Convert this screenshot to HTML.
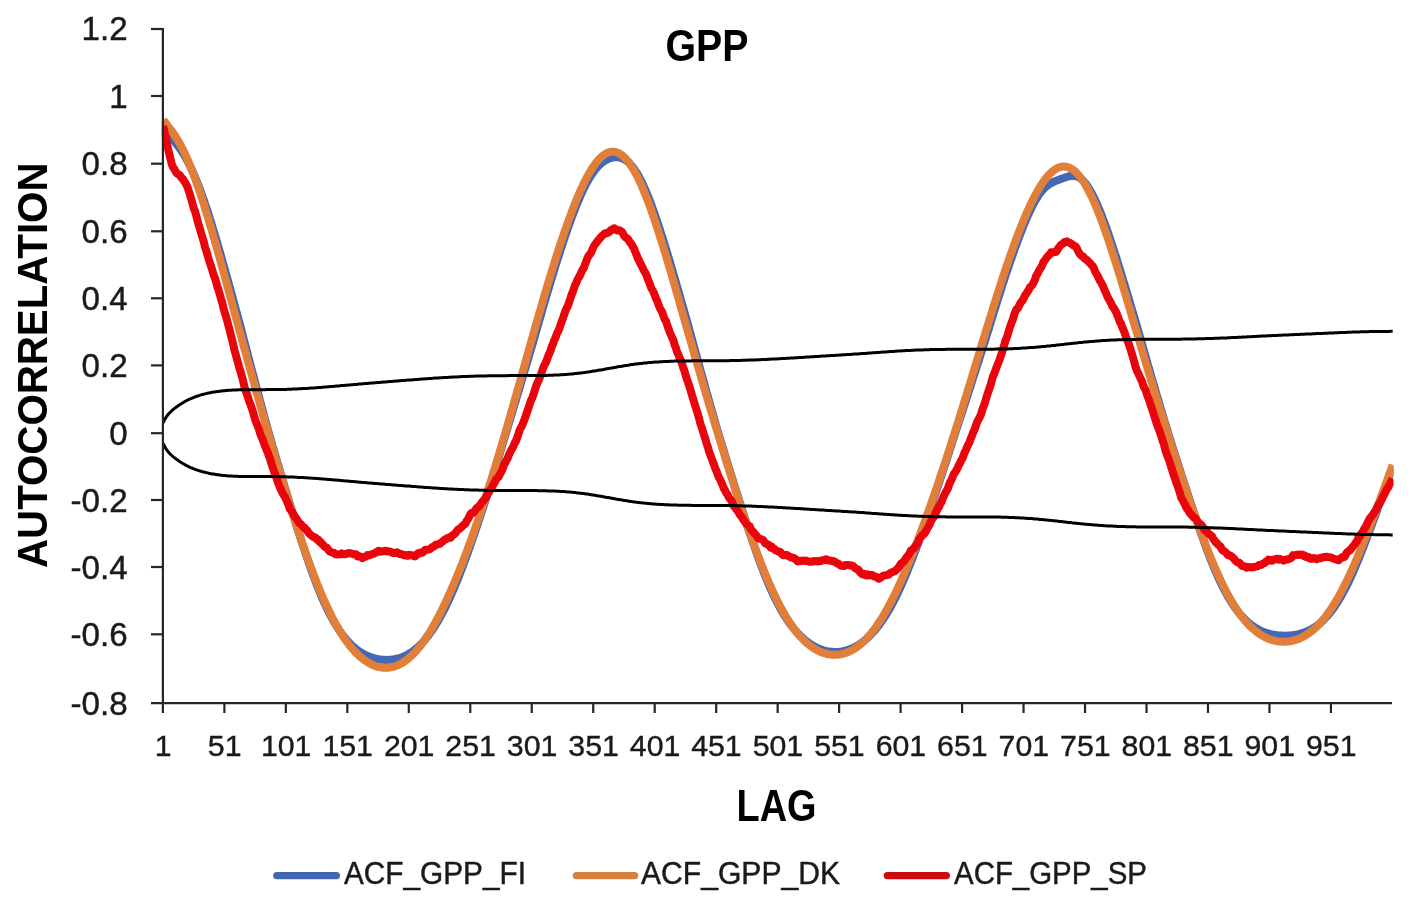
<!DOCTYPE html>
<html lang="en"><head><meta charset="utf-8"><title>GPP autocorrelation</title>
<style>html,body{margin:0;padding:0;background:#fff}body{width:1417px;height:904px;overflow:hidden}</style>
</head><body>
<svg width="1417" height="904" viewBox="0 0 1417 904" style="display:block;filter:blur(0.5px)">
<rect width="1417" height="904" fill="#fff"/>
<defs><clipPath id="plot"><rect x="161.8" y="20" width="1231.7" height="690"/></clipPath></defs>
<g fill="none" stroke-linejoin="round" stroke-linecap="butt" clip-path="url(#plot)">
<path d="M163.2,130.7 L164.4,130.7 L165.7,131.2 L166.9,132.7 L168.1,134.2 L169.3,135.7 L170.6,137.1 L171.8,138.5 L173.0,139.9 L174.3,141.3 L175.5,142.8 L176.7,144.3 L178.0,145.9 L179.2,147.6 L180.4,149.3 L181.6,151.1 L182.9,153.1 L184.1,155.0 L185.3,157.1 L186.6,159.3 L187.8,161.6 L189.0,164.0 L190.2,166.5 L191.5,169.1 L192.7,171.7 L193.9,174.5 L195.2,177.4 L196.4,180.4 L197.6,183.4 L198.9,186.6 L200.1,189.8 L201.3,193.2 L202.5,196.6 L203.8,200.1 L205.0,203.7 L206.2,207.3 L207.5,211.0 L208.7,214.8 L209.9,218.7 L211.2,222.6 L212.4,226.6 L213.6,230.7 L214.8,234.7 L216.1,238.9 L217.3,243.1 L218.5,247.3 L219.8,251.6 L221.0,255.8 L222.2,260.2 L223.4,264.5 L224.7,268.9 L225.9,273.3 L227.1,277.7 L228.4,282.2 L229.6,286.6 L230.8,291.1 L232.1,295.6 L233.3,300.1 L234.5,304.5 L235.7,309.0 L237.0,313.5 L238.2,318.0 L239.4,322.5 L240.7,327.2 L241.9,331.9 L243.1,336.6 L244.3,341.4 L245.6,346.1 L246.8,350.8 L248.0,355.5 L249.3,360.2 L250.5,364.9 L251.7,369.5 L253.0,374.2 L254.2,378.8 L255.4,383.4 L256.6,388.1 L257.9,392.7 L259.1,397.3 L260.3,401.8 L261.6,406.4 L262.8,410.9 L264.0,415.5 L265.2,420.0 L266.5,424.5 L267.7,429.0 L268.9,433.3 L270.2,437.6 L271.4,441.8 L272.6,446.1 L273.9,450.3 L275.1,454.5 L276.3,458.7 L277.5,462.8 L278.8,467.0 L280.0,471.1 L281.2,475.3 L282.5,479.4 L283.7,483.5 L284.9,487.6 L286.2,491.7 L287.4,495.8 L288.6,499.8 L289.8,503.9 L291.1,507.9 L292.3,511.9 L293.5,515.9 L294.8,519.8 L296.0,523.8 L297.2,527.7 L298.4,531.6 L299.7,535.4 L300.9,539.3 L302.1,543.0 L303.4,546.8 L304.6,550.5 L305.8,554.2 L307.1,557.8 L308.3,561.4 L309.5,565.0 L310.7,568.4 L312.0,571.9 L313.2,575.3 L314.4,578.6 L315.7,581.8 L316.9,585.0 L318.1,588.1 L319.3,591.2 L320.6,594.2 L321.8,597.1 L323.0,599.9 L324.3,602.7 L325.5,605.3 L326.7,608.0 L328.0,610.5 L329.2,613.0 L330.4,615.3 L331.6,617.6 L332.9,619.9 L334.1,622.0 L335.3,624.1 L336.6,626.1 L337.8,628.0 L339.0,629.9 L340.2,631.7 L341.5,633.4 L342.7,635.1 L343.9,636.7 L345.2,638.2 L346.4,639.6 L347.6,641.0 L348.9,642.4 L350.1,643.6 L351.3,644.9 L352.5,646.0 L353.8,647.1 L355.0,648.1 L356.2,649.1 L357.5,650.1 L358.7,651.0 L359.9,651.8 L361.1,652.6 L362.4,653.3 L363.6,654.0 L364.8,654.7 L366.1,655.3 L367.3,655.8 L368.5,656.4 L369.8,656.8 L371.0,657.3 L372.2,657.7 L373.4,658.0 L374.7,658.4 L375.9,658.7 L377.1,658.9 L378.4,659.2 L379.6,659.4 L380.8,659.5 L382.1,659.7 L383.3,659.8 L384.5,659.8 L385.7,659.9 L387.0,659.9 L388.2,659.8 L389.4,659.8 L390.7,659.7 L391.9,659.6 L393.1,659.4 L394.3,659.2 L395.6,659.0 L396.8,658.7 L398.0,658.4 L399.3,658.1 L400.5,657.7 L401.7,657.2 L403.0,656.8 L404.2,656.2 L405.4,655.7 L406.6,655.1 L407.9,654.4 L409.1,653.7 L410.3,652.9 L411.6,652.1 L412.8,651.3 L414.0,650.3 L415.2,649.4 L416.5,648.3 L417.7,647.3 L418.9,646.1 L420.2,644.9 L421.4,643.7 L422.6,642.4 L423.9,641.0 L425.1,639.6 L426.3,638.1 L427.5,636.5 L428.8,634.9 L430.0,633.3 L431.2,631.5 L432.5,629.8 L433.7,627.9 L434.9,626.0 L436.1,624.0 L437.4,622.0 L438.6,619.9 L439.8,617.7 L441.1,615.5 L442.3,613.2 L443.5,610.9 L444.8,608.5 L446.0,606.0 L447.2,603.4 L448.4,600.8 L449.7,598.2 L450.9,595.5 L452.1,592.7 L453.4,589.8 L454.6,586.9 L455.8,584.0 L457.1,581.0 L458.3,577.9 L459.5,574.8 L460.7,571.6 L462.0,568.4 L463.2,565.2 L464.4,561.9 L465.7,558.6 L466.9,555.2 L468.1,551.8 L469.3,548.3 L470.6,544.8 L471.8,541.3 L473.0,537.8 L474.3,534.2 L475.5,530.6 L476.7,526.9 L478.0,523.3 L479.2,519.6 L480.4,515.8 L481.6,512.1 L482.9,508.3 L484.1,504.5 L485.3,500.7 L486.6,496.8 L487.8,493.0 L489.0,489.1 L490.2,485.1 L491.5,481.2 L492.7,477.2 L493.9,473.2 L495.2,469.2 L496.4,465.1 L497.6,461.0 L498.9,456.9 L500.1,452.8 L501.3,448.7 L502.5,444.5 L503.8,440.3 L505.0,436.1 L506.2,432.1 L507.5,428.1 L508.7,424.0 L509.9,420.0 L511.1,415.9 L512.4,411.8 L513.6,407.7 L514.8,403.6 L516.1,399.5 L517.3,395.4 L518.5,391.3 L519.8,387.2 L521.0,383.0 L522.2,378.9 L523.4,374.7 L524.7,370.6 L525.9,366.4 L527.1,362.3 L528.4,358.2 L529.6,354.0 L530.8,349.9 L532.1,345.7 L533.3,341.6 L534.5,337.4 L535.7,333.0 L537.0,328.7 L538.2,324.4 L539.4,320.1 L540.7,315.8 L541.9,311.6 L543.1,307.3 L544.3,303.1 L545.6,298.9 L546.8,294.7 L548.0,290.6 L549.3,286.4 L550.5,282.3 L551.7,278.3 L553.0,274.2 L554.2,270.2 L555.4,266.2 L556.6,262.3 L557.9,258.4 L559.1,254.6 L560.3,250.7 L561.6,247.0 L562.8,243.2 L564.0,239.5 L565.2,235.9 L566.5,232.3 L567.7,228.8 L568.9,225.3 L570.2,221.9 L571.4,218.5 L572.6,215.2 L573.9,212.0 L575.1,208.8 L576.3,205.8 L577.5,202.7 L578.8,199.8 L580.0,197.0 L581.2,194.2 L582.5,191.5 L583.7,188.9 L584.9,186.4 L586.1,184.0 L587.4,181.8 L588.6,179.6 L589.8,177.5 L591.1,175.5 L592.3,173.7 L593.5,171.9 L594.8,170.3 L596.0,168.7 L597.2,167.3 L598.4,166.0 L599.7,164.8 L600.9,163.7 L602.1,162.6 L603.4,161.7 L604.6,160.9 L605.8,160.1 L607.0,159.5 L608.3,158.9 L609.5,158.4 L610.7,158.0 L612.0,157.7 L613.2,157.4 L614.4,157.3 L615.7,157.2 L616.9,157.2 L618.1,157.3 L619.3,157.5 L620.6,157.8 L621.8,158.2 L623.0,158.7 L624.3,159.3 L625.5,160.1 L626.7,160.9 L628.0,161.9 L629.2,163.0 L630.4,164.3 L631.6,165.7 L632.9,167.2 L634.1,168.8 L635.3,170.6 L636.6,172.5 L637.8,174.6 L639.0,176.7 L640.2,179.0 L641.5,181.4 L642.7,184.0 L643.9,186.6 L645.2,189.4 L646.4,192.3 L647.6,195.2 L648.9,198.3 L650.1,201.5 L651.3,204.7 L652.5,208.1 L653.8,211.5 L655.0,215.0 L656.2,218.5 L657.5,222.2 L658.7,225.9 L659.9,229.6 L661.1,233.4 L662.4,237.3 L663.6,241.2 L664.8,245.2 L666.1,249.2 L667.3,253.2 L668.5,257.3 L669.8,261.4 L671.0,265.6 L672.2,269.7 L673.4,273.9 L674.7,278.2 L675.9,282.4 L677.1,286.6 L678.4,290.9 L679.6,295.2 L680.8,299.5 L682.0,303.8 L683.3,308.0 L684.5,312.3 L685.7,316.7 L687.0,321.0 L688.2,325.3 L689.4,329.8 L690.7,334.3 L691.9,338.8 L693.1,343.3 L694.3,347.8 L695.6,352.3 L696.8,356.8 L698.0,361.3 L699.3,365.7 L700.5,370.2 L701.7,374.6 L703.0,379.0 L704.2,383.4 L705.4,387.8 L706.6,392.2 L707.9,396.6 L709.1,400.9 L710.3,405.3 L711.6,409.6 L712.8,413.9 L714.0,418.2 L715.2,422.5 L716.5,426.8 L717.7,431.1 L718.9,435.1 L720.2,439.2 L721.4,443.2 L722.6,447.2 L723.9,451.3 L725.1,455.3 L726.3,459.3 L727.5,463.3 L728.8,467.3 L730.0,471.2 L731.2,475.2 L732.5,479.1 L733.7,483.1 L734.9,487.0 L736.1,490.9 L737.4,494.8 L738.6,498.7 L739.8,502.6 L741.1,506.4 L742.3,510.3 L743.5,514.1 L744.8,517.9 L746.0,521.7 L747.2,525.4 L748.4,529.2 L749.7,532.9 L750.9,536.5 L752.1,540.1 L753.4,543.7 L754.6,547.3 L755.8,550.8 L757.0,554.3 L758.3,557.7 L759.5,561.1 L760.7,564.4 L762.0,567.7 L763.2,570.9 L764.4,574.0 L765.7,577.1 L766.9,580.1 L768.1,583.1 L769.3,585.9 L770.6,588.8 L771.8,591.5 L773.0,594.2 L774.3,596.8 L775.5,599.3 L776.7,601.8 L778.0,604.1 L779.2,606.4 L780.4,608.7 L781.6,610.9 L782.9,612.9 L784.1,615.0 L785.3,616.9 L786.6,618.8 L787.8,620.7 L789.0,622.4 L790.2,624.1 L791.5,625.8 L792.7,627.3 L793.9,628.9 L795.2,630.3 L796.4,631.7 L797.6,633.1 L798.9,634.4 L800.1,635.6 L801.3,636.8 L802.5,637.9 L803.8,639.0 L805.0,640.1 L806.2,641.0 L807.5,642.0 L808.7,642.9 L809.9,643.7 L811.1,644.5 L812.4,645.3 L813.6,646.0 L814.8,646.7 L816.1,647.3 L817.3,647.9 L818.5,648.4 L819.8,648.9 L821.0,649.4 L822.2,649.8 L823.4,650.2 L824.7,650.6 L825.9,650.9 L827.1,651.1 L828.4,651.4 L829.6,651.6 L830.8,651.7 L832.0,651.8 L833.3,651.9 L834.5,652.0 L835.7,652.0 L837.0,651.9 L838.2,651.9 L839.4,651.8 L840.7,651.6 L841.9,651.4 L843.1,651.2 L844.3,650.9 L845.6,650.6 L846.8,650.3 L848.0,649.9 L849.3,649.5 L850.5,649.0 L851.7,648.5 L852.9,648.0 L854.2,647.4 L855.4,646.7 L856.6,646.0 L857.9,645.3 L859.1,644.5 L860.3,643.7 L861.6,642.8 L862.8,641.9 L864.0,641.0 L865.2,639.9 L866.5,638.9 L867.7,637.8 L868.9,636.6 L870.2,635.4 L871.4,634.1 L872.6,632.8 L873.9,631.4 L875.1,630.0 L876.3,628.5 L877.5,627.0 L878.8,625.4 L880.0,623.7 L881.2,622.0 L882.5,620.2 L883.7,618.4 L884.9,616.5 L886.1,614.6 L887.4,612.6 L888.6,610.5 L889.8,608.4 L891.1,606.2 L892.3,603.9 L893.5,601.6 L894.8,599.2 L896.0,596.7 L897.2,594.2 L898.4,591.6 L899.7,589.0 L900.9,586.3 L902.1,583.5 L903.4,580.7 L904.6,577.8 L905.8,574.9 L907.0,571.9 L908.3,568.9 L909.5,565.8 L910.7,562.7 L912.0,559.5 L913.2,556.3 L914.4,553.1 L915.7,549.8 L916.9,546.5 L918.1,543.1 L919.3,539.8 L920.6,536.4 L921.8,532.9 L923.0,529.5 L924.3,526.0 L925.5,522.5 L926.7,519.0 L927.9,515.5 L929.2,511.9 L930.4,508.3 L931.6,504.7 L932.9,501.1 L934.1,497.5 L935.3,493.9 L936.6,490.2 L937.8,486.6 L939.0,482.9 L940.2,479.2 L941.5,475.5 L942.7,471.7 L943.9,468.0 L945.2,464.2 L946.4,460.5 L947.6,456.7 L948.9,452.9 L950.1,449.1 L951.3,445.2 L952.5,441.4 L953.8,437.5 L955.0,433.7 L956.2,430.0 L957.5,426.3 L958.7,422.6 L959.9,418.8 L961.1,415.1 L962.4,411.3 L963.6,407.5 L964.8,403.8 L966.1,400.0 L967.3,396.2 L968.5,392.4 L969.8,388.5 L971.0,384.7 L972.2,380.9 L973.4,377.1 L974.7,373.2 L975.9,369.4 L977.1,365.5 L978.4,361.7 L979.6,357.9 L980.8,354.0 L982.0,350.2 L983.3,346.3 L984.5,342.5 L985.7,338.6 L987.0,334.6 L988.2,330.6 L989.4,326.6 L990.7,322.6 L991.9,318.6 L993.1,314.7 L994.3,310.7 L995.6,306.8 L996.8,302.9 L998.0,299.0 L999.3,295.1 L1000.5,291.3 L1001.7,287.4 L1002.9,283.6 L1004.2,279.9 L1005.4,276.1 L1006.6,272.4 L1007.9,268.8 L1009.1,265.1 L1010.3,261.5 L1011.6,258.0 L1012.8,254.5 L1014.0,251.0 L1015.2,247.5 L1016.5,244.2 L1017.7,240.8 L1018.9,237.6 L1020.2,234.3 L1021.4,231.2 L1022.6,228.1 L1023.9,225.0 L1025.1,222.0 L1026.3,219.1 L1027.5,216.3 L1028.8,213.6 L1030.0,210.9 L1031.2,208.4 L1032.5,205.9 L1033.7,203.6 L1034.9,201.3 L1036.1,199.2 L1037.4,197.2 L1038.6,195.3 L1039.8,193.6 L1041.1,192.0 L1042.3,190.5 L1043.5,189.1 L1044.8,187.9 L1046.0,186.7 L1047.2,185.7 L1048.4,184.8 L1049.7,184.0 L1050.9,183.3 L1052.1,182.6 L1053.4,182.0 L1054.6,181.5 L1055.8,180.9 L1057.0,180.4 L1058.3,179.9 L1059.5,179.5 L1060.7,179.0 L1062.0,178.5 L1063.2,178.1 L1064.4,177.7 L1065.7,177.2 L1066.9,176.9 L1068.1,176.5 L1069.3,176.2 L1070.6,176.0 L1071.8,175.9 L1073.0,175.8 L1074.3,175.9 L1075.5,176.1 L1076.7,176.5 L1077.9,176.9 L1079.2,177.6 L1080.4,178.4 L1081.6,179.3 L1082.9,180.5 L1084.1,181.8 L1085.3,183.2 L1086.6,184.8 L1087.8,186.6 L1089.0,188.5 L1090.2,190.5 L1091.5,192.7 L1092.7,195.0 L1093.9,197.5 L1095.2,200.1 L1096.4,202.7 L1097.6,205.5 L1098.8,208.4 L1100.1,211.4 L1101.3,214.5 L1102.5,217.7 L1103.8,220.9 L1105.0,224.2 L1106.2,227.6 L1107.5,231.1 L1108.7,234.7 L1109.9,238.3 L1111.1,241.9 L1112.4,245.6 L1113.6,249.4 L1114.8,253.2 L1116.1,257.0 L1117.3,260.9 L1118.5,264.9 L1119.8,268.8 L1121.0,272.8 L1122.2,276.8 L1123.4,280.9 L1124.7,284.9 L1125.9,289.0 L1127.1,293.1 L1128.4,297.2 L1129.6,301.4 L1130.8,305.5 L1132.0,309.6 L1133.3,313.8 L1134.5,317.9 L1135.7,322.0 L1137.0,326.2 L1138.2,330.6 L1139.4,334.9 L1140.7,339.3 L1141.9,343.6 L1143.1,347.9 L1144.3,352.2 L1145.6,356.5 L1146.8,360.8 L1148.0,365.1 L1149.3,369.3 L1150.5,373.6 L1151.7,377.8 L1152.9,382.0 L1154.2,386.2 L1155.4,390.4 L1156.6,394.6 L1157.9,398.8 L1159.1,402.9 L1160.3,407.1 L1161.6,411.2 L1162.8,415.3 L1164.0,419.4 L1165.2,423.5 L1166.5,427.6 L1167.7,431.7 L1168.9,435.6 L1170.2,439.5 L1171.4,443.3 L1172.6,447.2 L1173.8,451.1 L1175.1,454.9 L1176.3,458.7 L1177.5,462.6 L1178.8,466.4 L1180.0,470.2 L1181.2,474.0 L1182.5,477.8 L1183.7,481.6 L1184.9,485.4 L1186.1,489.2 L1187.4,492.9 L1188.6,496.7 L1189.8,500.4 L1191.1,504.1 L1192.3,507.8 L1193.5,511.5 L1194.8,515.1 L1196.0,518.7 L1197.2,522.3 L1198.4,525.9 L1199.7,529.5 L1200.9,533.0 L1202.1,536.5 L1203.4,539.9 L1204.6,543.3 L1205.8,546.6 L1207.0,550.0 L1208.3,553.2 L1209.5,556.4 L1210.7,559.6 L1212.0,562.6 L1213.2,565.7 L1214.4,568.6 L1215.7,571.5 L1216.9,574.4 L1218.1,577.1 L1219.3,579.8 L1220.6,582.4 L1221.8,585.0 L1223.0,587.5 L1224.3,589.9 L1225.5,592.2 L1226.7,594.4 L1227.9,596.6 L1229.2,598.7 L1230.4,600.7 L1231.6,602.7 L1232.9,604.6 L1234.1,606.4 L1235.3,608.1 L1236.6,609.8 L1237.8,611.4 L1239.0,612.9 L1240.2,614.4 L1241.5,615.8 L1242.7,617.2 L1243.9,618.4 L1245.2,619.7 L1246.4,620.8 L1247.6,622.0 L1248.8,623.0 L1250.1,624.0 L1251.3,625.0 L1252.5,625.9 L1253.8,626.7 L1255.0,627.5 L1256.2,628.3 L1257.5,629.0 L1258.7,629.7 L1259.9,630.3 L1261.1,630.9 L1262.4,631.4 L1263.6,631.9 L1264.8,632.4 L1266.1,632.8 L1267.3,633.2 L1268.5,633.5 L1269.8,633.9 L1271.0,634.2 L1272.2,634.4 L1273.4,634.7 L1274.7,634.9 L1275.9,635.1 L1277.1,635.2 L1278.4,635.4 L1279.6,635.5 L1280.8,635.6 L1282.0,635.6 L1283.3,635.7 L1284.5,635.7 L1285.7,635.7 L1287.0,635.7 L1288.2,635.6 L1289.4,635.6 L1290.7,635.5 L1291.9,635.3 L1293.1,635.2 L1294.3,635.0 L1295.6,634.8 L1296.8,634.6 L1298.0,634.3 L1299.3,634.0 L1300.5,633.7 L1301.7,633.3 L1302.9,632.9 L1304.2,632.5 L1305.4,632.0 L1306.6,631.5 L1307.9,631.0 L1309.1,630.4 L1310.3,629.8 L1311.6,629.1 L1312.8,628.4 L1314.0,627.6 L1315.2,626.8 L1316.5,626.0 L1317.7,625.1 L1318.9,624.1 L1320.2,623.1 L1321.4,622.0 L1322.6,620.9 L1323.8,619.7 L1325.1,618.4 L1326.3,617.1 L1327.5,615.8 L1328.8,614.3 L1330.0,612.8 L1331.2,611.3 L1332.5,609.7 L1333.7,608.0 L1334.9,606.2 L1336.1,604.4 L1337.4,602.5 L1338.6,600.5 L1339.8,598.5 L1341.1,596.4 L1342.3,594.2 L1343.5,591.9 L1344.7,589.6 L1346.0,587.2 L1347.2,584.8 L1348.4,582.2 L1349.7,579.6 L1350.9,577.0 L1352.1,574.3 L1353.4,571.5 L1354.6,568.7 L1355.8,565.8 L1357.0,562.9 L1358.3,559.9 L1359.5,556.9 L1360.7,553.8 L1362.0,550.7 L1363.2,547.5 L1364.4,544.4 L1365.7,541.2 L1366.9,537.9 L1368.1,534.7 L1369.3,531.4 L1370.6,528.1 L1371.8,524.8 L1373.0,521.4 L1374.3,518.1 L1375.5,514.7 L1376.7,511.3 L1377.9,507.9 L1379.2,504.6 L1380.4,501.2 L1381.6,497.7 L1382.9,494.3 L1384.1,490.9 L1385.3,487.5 L1386.6,484.1 L1387.8,480.6 L1389.0,477.2 L1390.2,473.7 L1391.5,470.3 L1392.7,466.8" stroke="#4268b6" stroke-width="8"/>
<path d="M163.2,119.8 L164.4,121.5 L165.7,123.1 L166.9,124.7 L168.1,126.3 L169.3,127.9 L170.6,129.5 L171.8,131.2 L173.0,132.9 L174.3,134.7 L175.5,136.5 L176.7,138.5 L178.0,140.5 L179.2,142.6 L180.4,144.8 L181.6,147.1 L182.9,149.5 L184.1,152.0 L185.3,154.6 L186.6,157.3 L187.8,160.1 L189.0,163.0 L190.2,165.9 L191.5,169.0 L192.7,172.2 L193.9,175.4 L195.2,178.7 L196.4,182.1 L197.6,185.6 L198.9,189.2 L200.1,192.8 L201.3,196.5 L202.5,200.3 L203.8,204.1 L205.0,208.0 L206.2,212.0 L207.5,216.0 L208.7,220.1 L209.9,224.2 L211.2,228.3 L212.4,232.5 L213.6,236.8 L214.8,241.0 L216.1,245.3 L217.3,249.7 L218.5,254.0 L219.8,258.4 L221.0,262.8 L222.2,267.3 L223.4,271.7 L224.7,276.2 L225.9,280.6 L227.1,285.1 L228.4,289.6 L229.6,294.1 L230.8,298.6 L232.1,303.1 L233.3,307.6 L234.5,312.1 L235.7,316.7 L237.0,321.2 L238.2,325.7 L239.4,330.2 L240.7,334.7 L241.9,339.2 L243.1,343.6 L244.3,348.1 L245.6,352.6 L246.8,357.0 L248.0,361.5 L249.3,365.9 L250.5,370.4 L251.7,374.8 L253.0,379.2 L254.2,383.6 L255.4,388.0 L256.6,392.3 L257.9,396.7 L259.1,401.0 L260.3,405.4 L261.6,409.7 L262.8,414.0 L264.0,418.3 L265.2,422.6 L266.5,426.8 L267.7,431.1 L268.9,435.3 L270.2,439.6 L271.4,443.8 L272.6,448.0 L273.9,452.1 L275.1,456.3 L276.3,460.5 L277.5,464.6 L278.8,468.7 L280.0,472.8 L281.2,476.9 L282.5,480.9 L283.7,485.0 L284.9,489.0 L286.2,493.0 L287.4,497.0 L288.6,500.9 L289.8,504.9 L291.1,508.8 L292.3,512.7 L293.5,516.5 L294.8,520.3 L296.0,524.1 L297.2,527.9 L298.4,531.6 L299.7,535.3 L300.9,539.0 L302.1,542.7 L303.4,546.3 L304.6,549.8 L305.8,553.3 L307.1,556.8 L308.3,560.3 L309.5,563.7 L310.7,567.0 L312.0,570.3 L313.2,573.6 L314.4,576.8 L315.7,580.0 L316.9,583.1 L318.1,586.2 L319.3,589.2 L320.6,592.1 L321.8,595.0 L323.0,597.9 L324.3,600.7 L325.5,603.4 L326.7,606.1 L328.0,608.8 L329.2,611.3 L330.4,613.8 L331.6,616.3 L332.9,618.7 L334.1,621.0 L335.3,623.3 L336.6,625.5 L337.8,627.7 L339.0,629.8 L340.2,631.8 L341.5,633.8 L342.7,635.7 L343.9,637.6 L345.2,639.4 L346.4,641.1 L347.6,642.8 L348.9,644.4 L350.1,646.0 L351.3,647.5 L352.5,648.9 L353.8,650.3 L355.0,651.7 L356.2,653.0 L357.5,654.2 L358.7,655.4 L359.9,656.5 L361.1,657.5 L362.4,658.5 L363.6,659.5 L364.8,660.4 L366.1,661.2 L367.3,662.0 L368.5,662.8 L369.8,663.5 L371.0,664.1 L372.2,664.7 L373.4,665.3 L374.7,665.7 L375.9,666.2 L377.1,666.6 L378.4,666.9 L379.6,667.2 L380.8,667.4 L382.1,667.6 L383.3,667.7 L384.5,667.8 L385.7,667.8 L387.0,667.8 L388.2,667.7 L389.4,667.6 L390.7,667.4 L391.9,667.1 L393.1,666.9 L394.3,666.5 L395.6,666.1 L396.8,665.6 L398.0,665.1 L399.3,664.5 L400.5,663.9 L401.7,663.2 L403.0,662.5 L404.2,661.7 L405.4,660.8 L406.6,659.9 L407.9,659.0 L409.1,657.9 L410.3,656.8 L411.6,655.7 L412.8,654.5 L414.0,653.2 L415.2,651.9 L416.5,650.5 L417.7,649.1 L418.9,647.6 L420.2,646.1 L421.4,644.5 L422.6,642.8 L423.9,641.1 L425.1,639.3 L426.3,637.5 L427.5,635.6 L428.8,633.7 L430.0,631.7 L431.2,629.7 L432.5,627.6 L433.7,625.5 L434.9,623.3 L436.1,621.0 L437.4,618.8 L438.6,616.4 L439.8,614.0 L441.1,611.6 L442.3,609.1 L443.5,606.6 L444.8,604.1 L446.0,601.5 L447.2,598.8 L448.4,596.1 L449.7,593.4 L450.9,590.6 L452.1,587.8 L453.4,585.0 L454.6,582.1 L455.8,579.2 L457.1,576.2 L458.3,573.2 L459.5,570.2 L460.7,567.1 L462.0,564.0 L463.2,560.8 L464.4,557.6 L465.7,554.4 L466.9,551.1 L468.1,547.9 L469.3,544.5 L470.6,541.2 L471.8,537.8 L473.0,534.3 L474.3,530.9 L475.5,527.4 L476.7,523.8 L478.0,520.3 L479.2,516.7 L480.4,513.1 L481.6,509.4 L482.9,505.7 L484.1,502.0 L485.3,498.2 L486.6,494.4 L487.8,490.6 L489.0,486.7 L490.2,482.8 L491.5,478.9 L492.7,475.0 L493.9,471.0 L495.2,467.0 L496.4,463.0 L497.6,458.9 L498.9,454.8 L500.1,450.7 L501.3,446.6 L502.5,442.4 L503.8,438.2 L505.0,434.0 L506.2,429.8 L507.5,425.6 L508.7,421.3 L509.9,417.0 L511.1,412.7 L512.4,408.4 L513.6,404.1 L514.8,399.8 L516.1,395.4 L517.3,391.1 L518.5,386.7 L519.8,382.4 L521.0,378.0 L522.2,373.6 L523.4,369.2 L524.7,364.8 L525.9,360.5 L527.1,356.1 L528.4,351.7 L529.6,347.4 L530.8,343.0 L532.1,338.7 L533.3,334.3 L534.5,330.0 L535.7,325.7 L537.0,321.4 L538.2,317.1 L539.4,312.8 L540.7,308.6 L541.9,304.3 L543.1,300.1 L544.3,295.9 L545.6,291.8 L546.8,287.6 L548.0,283.5 L549.3,279.4 L550.5,275.4 L551.7,271.4 L553.0,267.4 L554.2,263.5 L555.4,259.5 L556.6,255.7 L557.9,251.8 L559.1,248.1 L560.3,244.3 L561.6,240.6 L562.8,236.9 L564.0,233.3 L565.2,229.8 L566.5,226.3 L567.7,222.8 L568.9,219.4 L570.2,216.1 L571.4,212.8 L572.6,209.6 L573.9,206.4 L575.1,203.3 L576.3,200.3 L577.5,197.3 L578.8,194.5 L580.0,191.7 L581.2,188.9 L582.5,186.3 L583.7,183.7 L584.9,181.2 L586.1,178.8 L587.4,176.5 L588.6,174.3 L589.8,172.1 L591.1,170.1 L592.3,168.1 L593.5,166.3 L594.8,164.5 L596.0,162.9 L597.2,161.3 L598.4,159.9 L599.7,158.6 L600.9,157.4 L602.1,156.3 L603.4,155.3 L604.6,154.4 L605.8,153.7 L607.0,153.1 L608.3,152.5 L609.5,152.2 L610.7,151.9 L612.0,151.7 L613.2,151.7 L614.4,151.8 L615.7,152.1 L616.9,152.4 L618.1,152.9 L619.3,153.5 L620.6,154.3 L621.8,155.1 L623.0,156.1 L624.3,157.2 L625.5,158.5 L626.7,159.9 L628.0,161.3 L629.2,163.0 L630.4,164.7 L631.6,166.5 L632.9,168.5 L634.1,170.6 L635.3,172.8 L636.6,175.1 L637.8,177.5 L639.0,180.0 L640.2,182.6 L641.5,185.3 L642.7,188.2 L643.9,191.1 L645.2,194.1 L646.4,197.2 L647.6,200.3 L648.9,203.6 L650.1,207.0 L651.3,210.4 L652.5,213.9 L653.8,217.4 L655.0,221.1 L656.2,224.7 L657.5,228.5 L658.7,232.3 L659.9,236.2 L661.1,240.1 L662.4,244.0 L663.6,248.0 L664.8,252.1 L666.1,256.1 L667.3,260.2 L668.5,264.4 L669.8,268.5 L671.0,272.7 L672.2,276.9 L673.4,281.2 L674.7,285.4 L675.9,289.7 L677.1,293.9 L678.4,298.2 L679.6,302.5 L680.8,306.8 L682.0,311.1 L683.3,315.4 L684.5,319.7 L685.7,324.0 L687.0,328.3 L688.2,332.6 L689.4,336.9 L690.7,341.2 L691.9,345.4 L693.1,349.7 L694.3,354.0 L695.6,358.2 L696.8,362.5 L698.0,366.7 L699.3,370.9 L700.5,375.2 L701.7,379.4 L703.0,383.6 L704.2,387.7 L705.4,391.9 L706.6,396.1 L707.9,400.2 L709.1,404.3 L710.3,408.5 L711.6,412.6 L712.8,416.7 L714.0,420.8 L715.2,424.8 L716.5,428.9 L717.7,433.0 L718.9,437.0 L720.2,441.0 L721.4,445.0 L722.6,449.0 L723.9,453.0 L725.1,457.0 L726.3,461.0 L727.5,464.9 L728.8,468.8 L730.0,472.7 L731.2,476.6 L732.5,480.5 L733.7,484.4 L734.9,488.2 L736.1,492.1 L737.4,495.9 L738.6,499.6 L739.8,503.4 L741.1,507.1 L742.3,510.9 L743.5,514.5 L744.8,518.2 L746.0,521.8 L747.2,525.4 L748.4,529.0 L749.7,532.5 L750.9,536.0 L752.1,539.5 L753.4,543.0 L754.6,546.4 L755.8,549.7 L757.0,553.0 L758.3,556.3 L759.5,559.5 L760.7,562.7 L762.0,565.9 L763.2,569.0 L764.4,572.0 L765.7,575.0 L766.9,578.0 L768.1,580.9 L769.3,583.7 L770.6,586.5 L771.8,589.2 L773.0,591.9 L774.3,594.6 L775.5,597.1 L776.7,599.6 L778.0,602.1 L779.2,604.5 L780.4,606.8 L781.6,609.1 L782.9,611.3 L784.1,613.5 L785.3,615.6 L786.6,617.6 L787.8,619.6 L789.0,621.6 L790.2,623.4 L791.5,625.2 L792.7,627.0 L793.9,628.7 L795.2,630.3 L796.4,631.9 L797.6,633.4 L798.9,634.9 L800.1,636.3 L801.3,637.6 L802.5,638.9 L803.8,640.1 L805.0,641.3 L806.2,642.4 L807.5,643.5 L808.7,644.5 L809.9,645.5 L811.1,646.4 L812.4,647.3 L813.6,648.1 L814.8,648.9 L816.1,649.6 L817.3,650.3 L818.5,650.9 L819.8,651.5 L821.0,652.0 L822.2,652.5 L823.4,652.9 L824.7,653.3 L825.9,653.7 L827.1,654.0 L828.4,654.2 L829.6,654.4 L830.8,654.6 L832.0,654.7 L833.3,654.8 L834.5,654.8 L835.7,654.8 L837.0,654.7 L838.2,654.6 L839.4,654.5 L840.7,654.3 L841.9,654.0 L843.1,653.7 L844.3,653.4 L845.6,653.0 L846.8,652.5 L848.0,652.1 L849.3,651.5 L850.5,650.9 L851.7,650.3 L852.9,649.6 L854.2,648.9 L855.4,648.1 L856.6,647.2 L857.9,646.3 L859.1,645.4 L860.3,644.4 L861.6,643.3 L862.8,642.2 L864.0,641.1 L865.2,639.9 L866.5,638.6 L867.7,637.3 L868.9,635.9 L870.2,634.5 L871.4,633.0 L872.6,631.4 L873.9,629.8 L875.1,628.2 L876.3,626.5 L877.5,624.7 L878.8,622.9 L880.0,621.0 L881.2,619.1 L882.5,617.1 L883.7,615.1 L884.9,613.0 L886.1,610.8 L887.4,608.7 L888.6,606.4 L889.8,604.1 L891.1,601.8 L892.3,599.4 L893.5,597.0 L894.8,594.5 L896.0,591.9 L897.2,589.4 L898.4,586.7 L899.7,584.1 L900.9,581.4 L902.1,578.6 L903.4,575.8 L904.6,573.0 L905.8,570.1 L907.0,567.2 L908.3,564.2 L909.5,561.2 L910.7,558.2 L912.0,555.2 L913.2,552.1 L914.4,549.0 L915.7,545.8 L916.9,542.6 L918.1,539.4 L919.3,536.1 L920.6,532.9 L921.8,529.6 L923.0,526.2 L924.3,522.9 L925.5,519.5 L926.7,516.1 L927.9,512.7 L929.2,509.2 L930.4,505.7 L931.6,502.2 L932.9,498.7 L934.1,495.1 L935.3,491.6 L936.6,488.0 L937.8,484.3 L939.0,480.7 L940.2,477.1 L941.5,473.4 L942.7,469.7 L943.9,466.0 L945.2,462.2 L946.4,458.5 L947.6,454.7 L948.9,450.9 L950.1,447.1 L951.3,443.3 L952.5,439.4 L953.8,435.6 L955.0,431.7 L956.2,427.8 L957.5,423.9 L958.7,420.0 L959.9,416.1 L961.1,412.1 L962.4,408.2 L963.6,404.2 L964.8,400.2 L966.1,396.2 L967.3,392.2 L968.5,388.2 L969.8,384.2 L971.0,380.2 L972.2,376.2 L973.4,372.1 L974.7,368.1 L975.9,364.0 L977.1,360.0 L978.4,356.0 L979.6,351.9 L980.8,347.9 L982.0,343.8 L983.3,339.8 L984.5,335.8 L985.7,331.8 L987.0,327.8 L988.2,323.8 L989.4,319.8 L990.7,315.8 L991.9,311.9 L993.1,307.9 L994.3,304.0 L995.6,300.1 L996.8,296.2 L998.0,292.4 L999.3,288.5 L1000.5,284.7 L1001.7,281.0 L1002.9,277.2 L1004.2,273.5 L1005.4,269.8 L1006.6,266.2 L1007.9,262.6 L1009.1,259.0 L1010.3,255.5 L1011.6,252.0 L1012.8,248.5 L1014.0,245.1 L1015.2,241.8 L1016.5,238.5 L1017.7,235.2 L1018.9,232.0 L1020.2,228.8 L1021.4,225.7 L1022.6,222.7 L1023.9,219.7 L1025.1,216.8 L1026.3,213.9 L1027.5,211.2 L1028.8,208.4 L1030.0,205.8 L1031.2,203.2 L1032.5,200.7 L1033.7,198.2 L1034.9,195.8 L1036.1,193.5 L1037.4,191.3 L1038.6,189.2 L1039.8,187.2 L1041.1,185.2 L1042.3,183.3 L1043.5,181.5 L1044.8,179.8 L1046.0,178.2 L1047.2,176.7 L1048.4,175.3 L1049.7,174.0 L1050.9,172.8 L1052.1,171.7 L1053.4,170.7 L1054.6,169.8 L1055.8,169.0 L1057.0,168.3 L1058.3,167.7 L1059.5,167.3 L1060.7,166.9 L1062.0,166.7 L1063.2,166.6 L1064.4,166.6 L1065.7,166.7 L1066.9,166.9 L1068.1,167.3 L1069.3,167.8 L1070.6,168.3 L1071.8,169.1 L1073.0,169.9 L1074.3,170.8 L1075.5,171.9 L1076.7,173.1 L1077.9,174.4 L1079.2,175.8 L1080.4,177.4 L1081.6,179.1 L1082.9,180.8 L1084.1,182.7 L1085.3,184.7 L1086.6,186.8 L1087.8,189.1 L1089.0,191.4 L1090.2,193.8 L1091.5,196.3 L1092.7,199.0 L1093.9,201.7 L1095.2,204.5 L1096.4,207.4 L1097.6,210.4 L1098.8,213.5 L1100.1,216.7 L1101.3,219.9 L1102.5,223.2 L1103.8,226.6 L1105.0,230.1 L1106.2,233.6 L1107.5,237.2 L1108.7,240.8 L1109.9,244.5 L1111.1,248.3 L1112.4,252.1 L1113.6,255.9 L1114.8,259.8 L1116.1,263.7 L1117.3,267.7 L1118.5,271.7 L1119.8,275.7 L1121.0,279.7 L1122.2,283.8 L1123.4,287.8 L1124.7,291.9 L1125.9,296.0 L1127.1,300.2 L1128.4,304.3 L1129.6,308.4 L1130.8,312.6 L1132.0,316.7 L1133.3,320.8 L1134.5,325.0 L1135.7,329.1 L1137.0,333.2 L1138.2,337.4 L1139.4,341.5 L1140.7,345.6 L1141.9,349.7 L1143.1,353.8 L1144.3,357.9 L1145.6,362.0 L1146.8,366.1 L1148.0,370.1 L1149.3,374.2 L1150.5,378.2 L1151.7,382.2 L1152.9,386.2 L1154.2,390.2 L1155.4,394.2 L1156.6,398.2 L1157.9,402.2 L1159.1,406.1 L1160.3,410.1 L1161.6,414.0 L1162.8,417.9 L1164.0,421.8 L1165.2,425.7 L1166.5,429.6 L1167.7,433.5 L1168.9,437.4 L1170.2,441.2 L1171.4,445.0 L1172.6,448.9 L1173.8,452.7 L1175.1,456.5 L1176.3,460.3 L1177.5,464.1 L1178.8,467.8 L1180.0,471.6 L1181.2,475.3 L1182.5,479.1 L1183.7,482.8 L1184.9,486.5 L1186.1,490.1 L1187.4,493.8 L1188.6,497.4 L1189.8,501.0 L1191.1,504.6 L1192.3,508.2 L1193.5,511.7 L1194.8,515.2 L1196.0,518.7 L1197.2,522.1 L1198.4,525.6 L1199.7,529.0 L1200.9,532.3 L1202.1,535.6 L1203.4,538.9 L1204.6,542.2 L1205.8,545.4 L1207.0,548.5 L1208.3,551.6 L1209.5,554.7 L1210.7,557.8 L1212.0,560.7 L1213.2,563.7 L1214.4,566.6 L1215.7,569.4 L1216.9,572.2 L1218.1,574.9 L1219.3,577.6 L1220.6,580.3 L1221.8,582.8 L1223.0,585.4 L1224.3,587.8 L1225.5,590.2 L1226.7,592.6 L1227.9,594.9 L1229.2,597.1 L1230.4,599.3 L1231.6,601.4 L1232.9,603.4 L1234.1,605.4 L1235.3,607.4 L1236.6,609.3 L1237.8,611.1 L1239.0,612.8 L1240.2,614.5 L1241.5,616.2 L1242.7,617.8 L1243.9,619.3 L1245.2,620.8 L1246.4,622.2 L1247.6,623.5 L1248.8,624.8 L1250.1,626.1 L1251.3,627.3 L1252.5,628.4 L1253.8,629.5 L1255.0,630.5 L1256.2,631.5 L1257.5,632.5 L1258.7,633.3 L1259.9,634.2 L1261.1,635.0 L1262.4,635.7 L1263.6,636.4 L1264.8,637.1 L1266.1,637.7 L1267.3,638.2 L1268.5,638.7 L1269.8,639.2 L1271.0,639.6 L1272.2,640.0 L1273.4,640.4 L1274.7,640.7 L1275.9,640.9 L1277.1,641.2 L1278.4,641.4 L1279.6,641.5 L1280.8,641.6 L1282.0,641.7 L1283.3,641.7 L1284.5,641.7 L1285.7,641.7 L1287.0,641.6 L1288.2,641.5 L1289.4,641.3 L1290.7,641.1 L1291.9,640.9 L1293.1,640.6 L1294.3,640.3 L1295.6,639.9 L1296.8,639.5 L1298.0,639.0 L1299.3,638.6 L1300.5,638.0 L1301.7,637.4 L1302.9,636.8 L1304.2,636.2 L1305.4,635.5 L1306.6,634.7 L1307.9,633.9 L1309.1,633.0 L1310.3,632.1 L1311.6,631.2 L1312.8,630.2 L1314.0,629.1 L1315.2,628.0 L1316.5,626.9 L1317.7,625.7 L1318.9,624.4 L1320.2,623.1 L1321.4,621.7 L1322.6,620.3 L1323.8,618.8 L1325.1,617.3 L1326.3,615.7 L1327.5,614.0 L1328.8,612.3 L1330.0,610.5 L1331.2,608.7 L1332.5,606.8 L1333.7,604.9 L1334.9,602.9 L1336.1,600.9 L1337.4,598.8 L1338.6,596.6 L1339.8,594.4 L1341.1,592.1 L1342.3,589.8 L1343.5,587.4 L1344.7,585.0 L1346.0,582.6 L1347.2,580.0 L1348.4,577.5 L1349.7,574.9 L1350.9,572.2 L1352.1,569.5 L1353.4,566.8 L1354.6,564.0 L1355.8,561.2 L1357.0,558.3 L1358.3,555.4 L1359.5,552.5 L1360.7,549.5 L1362.0,546.5 L1363.2,543.5 L1364.4,540.4 L1365.7,537.4 L1366.9,534.2 L1368.1,531.1 L1369.3,528.0 L1370.6,524.8 L1371.8,521.6 L1373.0,518.4 L1374.3,515.1 L1375.5,511.9 L1376.7,508.6 L1377.9,505.3 L1379.2,502.0 L1380.4,498.7 L1381.6,495.4 L1382.9,492.0 L1384.1,488.7 L1385.3,485.3 L1386.6,482.0 L1387.8,478.6 L1389.0,475.2 L1390.2,471.8 L1391.5,468.4 L1392.7,464.9" stroke="#e17f3a" stroke-width="8"/>
<path d="M163.2,126.1 L164.4,131.8 L165.7,137.6 L166.9,143.1 L168.1,148.9 L169.3,154.0 L170.6,159.2 L171.8,164.3 L173.0,167.1 L174.3,169.2 L175.5,171.4 L176.7,173.1 L178.0,174.2 L179.2,174.7 L180.4,176.0 L181.6,178.0 L182.9,178.9 L184.1,181.1 L185.3,182.7 L186.6,185.3 L187.8,187.9 L189.0,191.8 L190.2,195.3 L191.5,199.9 L192.7,204.4 L193.9,208.8 L195.2,211.7 L196.4,216.3 L197.6,221.0 L198.9,225.8 L200.1,229.4 L201.3,233.8 L202.5,237.7 L203.8,241.8 L205.0,246.9 L206.2,250.5 L207.5,254.7 L208.7,259.3 L209.9,262.8 L211.2,266.7 L212.4,270.7 L213.6,274.7 L214.8,277.8 L216.1,282.0 L217.3,286.9 L218.5,289.8 L219.8,294.5 L221.0,298.7 L222.2,302.5 L223.4,308.0 L224.7,312.5 L225.9,316.0 L227.1,320.5 L228.4,325.5 L229.6,329.9 L230.8,335.1 L232.1,339.7 L233.3,344.8 L234.5,350.4 L235.7,354.4 L237.0,359.2 L238.2,363.5 L239.4,368.3 L240.7,372.1 L241.9,376.5 L243.1,380.9 L244.3,386.0 L245.6,390.8 L246.8,393.9 L248.0,397.4 L249.3,401.8 L250.5,404.4 L251.7,408.1 L253.0,411.9 L254.2,416.4 L255.4,420.3 L256.6,423.4 L257.9,426.5 L259.1,429.7 L260.3,434.0 L261.6,436.9 L262.8,439.9 L264.0,443.4 L265.2,446.6 L266.5,449.8 L267.7,452.4 L268.9,456.0 L270.2,459.3 L271.4,463.6 L272.6,467.4 L273.9,470.7 L275.1,474.4 L276.3,477.4 L277.5,481.3 L278.8,484.4 L280.0,487.8 L281.2,490.0 L282.5,493.2 L283.7,495.1 L284.9,496.9 L286.2,499.8 L287.4,502.2 L288.6,505.1 L289.8,509.0 L291.1,510.5 L292.3,512.2 L293.5,514.4 L294.8,516.5 L296.0,518.1 L297.2,519.7 L298.4,521.7 L299.7,523.5 L300.9,524.2 L302.1,525.6 L303.4,527.1 L304.6,527.8 L305.8,529.5 L307.1,530.3 L308.3,532.4 L309.5,533.8 L310.7,535.0 L312.0,535.8 L313.2,537.0 L314.4,537.0 L315.7,537.8 L316.9,539.5 L318.1,539.6 L319.3,541.7 L320.6,541.9 L321.8,543.8 L323.0,544.5 L324.3,546.3 L325.5,547.4 L326.7,547.4 L328.0,549.3 L329.2,551.1 L330.4,551.7 L331.6,552.2 L332.9,552.7 L334.1,552.8 L335.3,554.2 L336.6,554.3 L337.8,554.6 L339.0,554.4 L340.2,554.2 L341.5,553.4 L342.7,554.3 L343.9,553.9 L345.2,554.3 L346.4,553.9 L347.6,553.3 L348.9,553.2 L350.1,553.1 L351.3,553.6 L352.5,553.9 L353.8,554.3 L355.0,554.2 L356.2,554.5 L357.5,556.4 L358.7,556.4 L359.9,556.3 L361.1,557.0 L362.4,558.1 L363.6,557.1 L364.8,556.9 L366.1,556.4 L367.3,555.1 L368.5,555.5 L369.8,555.2 L371.0,554.8 L372.2,553.9 L373.4,553.8 L374.7,553.0 L375.9,552.6 L377.1,551.6 L378.4,550.8 L379.6,551.7 L380.8,551.2 L382.1,551.4 L383.3,551.3 L384.5,551.0 L385.7,550.8 L387.0,551.4 L388.2,551.3 L389.4,551.4 L390.7,551.6 L391.9,552.5 L393.1,553.0 L394.3,553.2 L395.6,552.9 L396.8,552.2 L398.0,553.1 L399.3,553.9 L400.5,553.8 L401.7,554.2 L403.0,554.7 L404.2,555.2 L405.4,555.6 L406.6,555.0 L407.9,555.8 L409.1,554.7 L410.3,555.2 L411.6,555.2 L412.8,555.4 L414.0,556.2 L415.2,556.4 L416.5,554.9 L417.7,553.4 L418.9,553.7 L420.2,552.7 L421.4,552.4 L422.6,552.7 L423.9,551.2 L425.1,549.7 L426.3,549.9 L427.5,549.7 L428.8,549.3 L430.0,549.0 L431.2,548.1 L432.5,546.8 L433.7,546.5 L434.9,545.6 L436.1,544.4 L437.4,544.5 L438.6,544.1 L439.8,543.9 L441.1,542.6 L442.3,541.7 L443.5,540.6 L444.8,539.6 L446.0,539.2 L447.2,538.1 L448.4,537.8 L449.7,537.2 L450.9,537.6 L452.1,535.5 L453.4,535.0 L454.6,533.8 L455.8,532.7 L457.1,530.6 L458.3,529.4 L459.5,528.9 L460.7,527.7 L462.0,526.6 L463.2,525.2 L464.4,524.6 L465.7,523.2 L466.9,520.4 L468.1,518.9 L469.3,516.6 L470.6,513.7 L471.8,512.8 L473.0,512.9 L474.3,511.8 L475.5,509.8 L476.7,508.0 L478.0,507.5 L479.2,506.1 L480.4,504.5 L481.6,502.8 L482.9,501.1 L484.1,499.9 L485.3,498.3 L486.6,496.4 L487.8,493.8 L489.0,492.2 L490.2,489.8 L491.5,488.5 L492.7,485.6 L493.9,483.6 L495.2,481.6 L496.4,478.8 L497.6,477.9 L498.9,476.5 L500.1,473.7 L501.3,471.8 L502.5,469.4 L503.8,465.3 L505.0,463.2 L506.2,460.8 L507.5,458.5 L508.7,455.3 L509.9,452.7 L511.1,450.2 L512.4,448.3 L513.6,445.7 L514.8,442.8 L516.1,440.8 L517.3,437.2 L518.5,433.8 L519.8,429.6 L521.0,427.7 L522.2,425.1 L523.4,422.2 L524.7,419.0 L525.9,415.4 L527.1,411.9 L528.4,408.1 L529.6,404.4 L530.8,400.9 L532.1,398.3 L533.3,394.9 L534.5,391.2 L535.7,387.3 L537.0,383.6 L538.2,381.4 L539.4,378.4 L540.7,375.2 L541.9,371.8 L543.1,368.1 L544.3,365.2 L545.6,363.0 L546.8,359.8 L548.0,356.7 L549.3,353.7 L550.5,350.8 L551.7,346.9 L553.0,343.9 L554.2,340.4 L555.4,338.0 L556.6,334.4 L557.9,331.6 L559.1,329.3 L560.3,325.6 L561.6,321.8 L562.8,318.6 L564.0,315.2 L565.2,311.3 L566.5,308.4 L567.7,306.4 L568.9,302.7 L570.2,299.2 L571.4,295.2 L572.6,292.4 L573.9,288.5 L575.1,285.0 L576.3,283.0 L577.5,279.5 L578.8,277.4 L580.0,275.4 L581.2,272.5 L582.5,269.8 L583.7,268.1 L584.9,264.8 L586.1,261.6 L587.4,258.1 L588.6,255.8 L589.8,254.5 L591.1,252.6 L592.3,249.7 L593.5,247.0 L594.8,244.8 L596.0,243.3 L597.2,241.5 L598.4,240.0 L599.7,238.7 L600.9,237.1 L602.1,235.8 L603.4,234.7 L604.6,233.6 L605.8,233.0 L607.0,233.2 L608.3,232.6 L609.5,231.7 L610.7,230.1 L612.0,230.1 L613.2,228.8 L614.4,228.2 L615.7,229.3 L616.9,230.2 L618.1,230.6 L619.3,230.2 L620.6,231.0 L621.8,231.7 L623.0,233.5 L624.3,236.1 L625.5,237.4 L626.7,238.2 L628.0,239.1 L629.2,241.0 L630.4,242.9 L631.6,244.3 L632.9,246.8 L634.1,248.6 L635.3,251.9 L636.6,255.1 L637.8,258.2 L639.0,260.3 L640.2,263.1 L641.5,265.6 L642.7,268.1 L643.9,270.6 L645.2,272.7 L646.4,275.0 L647.6,278.7 L648.9,281.6 L650.1,284.8 L651.3,288.3 L652.5,290.0 L653.8,292.6 L655.0,295.8 L656.2,299.0 L657.5,301.7 L658.7,305.3 L659.9,308.2 L661.1,310.2 L662.4,312.7 L663.6,316.3 L664.8,319.5 L666.1,321.3 L667.3,325.3 L668.5,328.7 L669.8,332.4 L671.0,335.0 L672.2,337.8 L673.4,340.2 L674.7,345.1 L675.9,347.9 L677.1,352.0 L678.4,354.6 L679.6,357.9 L680.8,360.2 L682.0,363.7 L683.3,368.0 L684.5,370.9 L685.7,375.5 L687.0,379.5 L688.2,382.7 L689.4,386.5 L690.7,390.5 L691.9,394.8 L693.1,398.8 L694.3,402.7 L695.6,406.9 L696.8,410.8 L698.0,414.5 L699.3,419.1 L700.5,424.1 L701.7,427.3 L703.0,431.6 L704.2,435.4 L705.4,438.9 L706.6,443.6 L707.9,447.1 L709.1,451.8 L710.3,454.8 L711.6,458.5 L712.8,461.7 L714.0,464.6 L715.2,468.2 L716.5,471.2 L717.7,474.6 L718.9,477.5 L720.2,479.6 L721.4,482.4 L722.6,485.3 L723.9,488.5 L725.1,490.4 L726.3,492.9 L727.5,494.3 L728.8,497.3 L730.0,499.0 L731.2,500.4 L732.5,502.9 L733.7,506.0 L734.9,507.2 L736.1,508.8 L737.4,510.6 L738.6,512.2 L739.8,514.6 L741.1,516.2 L742.3,517.8 L743.5,520.1 L744.8,521.4 L746.0,523.5 L747.2,524.5 L748.4,525.5 L749.7,526.2 L750.9,529.3 L752.1,530.6 L753.4,532.2 L754.6,533.5 L755.8,534.9 L757.0,536.2 L758.3,538.6 L759.5,538.8 L760.7,538.9 L762.0,539.6 L763.2,540.2 L764.4,542.1 L765.7,543.8 L766.9,544.2 L768.1,544.5 L769.3,545.5 L770.6,547.5 L771.8,546.7 L773.0,548.3 L774.3,548.7 L775.5,550.4 L776.7,550.6 L778.0,551.4 L779.2,551.4 L780.4,551.9 L781.6,553.8 L782.9,555.0 L784.1,555.3 L785.3,555.3 L786.6,554.9 L787.8,555.5 L789.0,556.4 L790.2,557.0 L791.5,557.6 L792.7,557.5 L793.9,558.2 L795.2,558.7 L796.4,560.0 L797.6,561.4 L798.9,561.3 L800.1,560.8 L801.3,561.0 L802.5,560.8 L803.8,560.6 L805.0,560.9 L806.2,560.6 L807.5,561.3 L808.7,561.5 L809.9,561.8 L811.1,561.8 L812.4,561.5 L813.6,561.1 L814.8,561.2 L816.1,561.1 L817.3,561.4 L818.5,561.5 L819.8,560.8 L821.0,561.0 L822.2,560.3 L823.4,560.2 L824.7,560.3 L825.9,559.3 L827.1,559.8 L828.4,560.3 L829.6,560.5 L830.8,560.7 L832.0,561.0 L833.3,561.0 L834.5,561.7 L835.7,562.3 L837.0,563.3 L838.2,563.5 L839.4,564.7 L840.7,565.5 L841.9,565.8 L843.1,565.8 L844.3,566.1 L845.6,564.9 L846.8,565.1 L848.0,565.1 L849.3,565.2 L850.5,565.5 L851.7,565.4 L852.9,565.9 L854.2,567.1 L855.4,568.3 L856.6,569.3 L857.9,569.3 L859.1,570.8 L860.3,572.4 L861.6,573.7 L862.8,574.4 L864.0,573.9 L865.2,575.1 L866.5,575.5 L867.7,574.4 L868.9,575.4 L870.2,575.1 L871.4,574.9 L872.6,575.2 L873.9,576.6 L875.1,576.6 L876.3,576.9 L877.5,578.0 L878.8,578.7 L880.0,578.0 L881.2,577.4 L882.5,576.1 L883.7,575.4 L884.9,575.4 L886.1,575.2 L887.4,574.7 L888.6,574.7 L889.8,573.4 L891.1,572.6 L892.3,572.2 L893.5,571.6 L894.8,571.2 L896.0,570.2 L897.2,568.7 L898.4,567.7 L899.7,565.8 L900.9,563.6 L902.1,563.0 L903.4,561.7 L904.6,560.7 L905.8,558.3 L907.0,556.9 L908.3,555.2 L909.5,553.5 L910.7,550.8 L912.0,549.6 L913.2,548.9 L914.4,547.6 L915.7,545.6 L916.9,544.0 L918.1,542.7 L919.3,539.1 L920.6,537.5 L921.8,536.1 L923.0,534.7 L924.3,533.6 L925.5,532.0 L926.7,529.7 L927.9,527.4 L929.2,525.4 L930.4,522.5 L931.6,520.0 L932.9,518.1 L934.1,516.7 L935.3,513.8 L936.6,511.1 L937.8,508.6 L939.0,506.8 L940.2,504.0 L941.5,502.1 L942.7,498.6 L943.9,495.9 L945.2,493.2 L946.4,491.1 L947.6,489.1 L948.9,485.4 L950.1,482.3 L951.3,480.2 L952.5,477.3 L953.8,474.0 L955.0,472.5 L956.2,470.4 L957.5,468.2 L958.7,465.3 L959.9,463.4 L961.1,460.6 L962.4,458.6 L963.6,455.2 L964.8,452.0 L966.1,449.5 L967.3,446.4 L968.5,444.2 L969.8,441.4 L971.0,437.9 L972.2,435.0 L973.4,431.8 L974.7,429.3 L975.9,425.6 L977.1,422.1 L978.4,419.6 L979.6,417.5 L980.8,414.9 L982.0,410.8 L983.3,407.0 L984.5,404.1 L985.7,400.0 L987.0,395.6 L988.2,392.0 L989.4,388.7 L990.7,384.6 L991.9,380.1 L993.1,376.1 L994.3,373.5 L995.6,369.8 L996.8,366.6 L998.0,363.5 L999.3,360.5 L1000.5,356.7 L1001.7,353.5 L1002.9,349.2 L1004.2,345.3 L1005.4,340.9 L1006.6,338.0 L1007.9,334.2 L1009.1,329.9 L1010.3,326.1 L1011.6,322.5 L1012.8,319.6 L1014.0,315.4 L1015.2,312.0 L1016.5,309.2 L1017.7,308.4 L1018.9,306.3 L1020.2,303.6 L1021.4,301.6 L1022.6,300.5 L1023.9,297.8 L1025.1,295.2 L1026.3,293.8 L1027.5,291.7 L1028.8,289.9 L1030.0,287.2 L1031.2,286.1 L1032.5,284.6 L1033.7,282.2 L1034.9,279.9 L1036.1,275.9 L1037.4,273.9 L1038.6,271.4 L1039.8,269.3 L1041.1,267.4 L1042.3,265.0 L1043.5,261.9 L1044.8,260.5 L1046.0,258.5 L1047.2,257.0 L1048.4,255.6 L1049.7,254.5 L1050.9,252.4 L1052.1,252.7 L1053.4,252.2 L1054.6,252.0 L1055.8,252.1 L1057.0,250.7 L1058.3,248.2 L1059.5,246.7 L1060.7,245.1 L1062.0,244.1 L1063.2,243.6 L1064.4,242.0 L1065.7,242.2 L1066.9,241.4 L1068.1,242.1 L1069.3,242.6 L1070.6,243.3 L1071.8,244.2 L1073.0,245.0 L1074.3,246.0 L1075.5,246.4 L1076.7,248.0 L1077.9,250.7 L1079.2,253.1 L1080.4,254.8 L1081.6,255.9 L1082.9,256.3 L1084.1,258.1 L1085.3,258.9 L1086.6,259.9 L1087.8,260.9 L1089.0,262.2 L1090.2,263.4 L1091.5,265.0 L1092.7,266.2 L1093.9,268.1 L1095.2,271.7 L1096.4,273.7 L1097.6,275.7 L1098.8,278.3 L1100.1,281.0 L1101.3,282.7 L1102.5,285.1 L1103.8,288.3 L1105.0,290.9 L1106.2,293.5 L1107.5,296.9 L1108.7,298.8 L1109.9,301.2 L1111.1,303.3 L1112.4,306.6 L1113.6,307.6 L1114.8,309.8 L1116.1,312.2 L1117.3,315.3 L1118.5,318.4 L1119.8,321.9 L1121.0,323.6 L1122.2,327.1 L1123.4,330.0 L1124.7,332.9 L1125.9,336.8 L1127.1,340.0 L1128.4,342.6 L1129.6,346.7 L1130.8,350.1 L1132.0,354.1 L1133.3,358.6 L1134.5,362.8 L1135.7,367.6 L1137.0,370.8 L1138.2,373.1 L1139.4,376.0 L1140.7,378.7 L1141.9,381.3 L1143.1,385.0 L1144.3,387.8 L1145.6,389.9 L1146.8,393.8 L1148.0,397.1 L1149.3,400.7 L1150.5,404.2 L1151.7,408.0 L1152.9,411.5 L1154.2,415.8 L1155.4,419.5 L1156.6,423.2 L1157.9,427.0 L1159.1,429.7 L1160.3,433.5 L1161.6,437.3 L1162.8,441.4 L1164.0,444.6 L1165.2,449.7 L1166.5,453.6 L1167.7,456.7 L1168.9,459.7 L1170.2,463.7 L1171.4,467.8 L1172.6,471.3 L1173.8,475.3 L1175.1,478.7 L1176.3,482.8 L1177.5,485.9 L1178.8,489.4 L1180.0,493.3 L1181.2,497.9 L1182.5,499.9 L1183.7,502.2 L1184.9,504.3 L1186.1,507.4 L1187.4,509.0 L1188.6,510.9 L1189.8,513.1 L1191.1,514.4 L1192.3,515.8 L1193.5,517.4 L1194.8,517.9 L1196.0,519.0 L1197.2,520.7 L1198.4,522.6 L1199.7,524.0 L1200.9,524.4 L1202.1,525.8 L1203.4,527.9 L1204.6,529.7 L1205.8,530.9 L1207.0,531.7 L1208.3,533.5 L1209.5,534.5 L1210.7,535.2 L1212.0,536.3 L1213.2,538.7 L1214.4,540.2 L1215.7,542.2 L1216.9,543.0 L1218.1,544.8 L1219.3,545.5 L1220.6,546.6 L1221.8,549.4 L1223.0,550.7 L1224.3,551.2 L1225.5,552.1 L1226.7,553.4 L1227.9,555.1 L1229.2,555.6 L1230.4,555.5 L1231.6,556.5 L1232.9,557.6 L1234.1,558.8 L1235.3,560.6 L1236.6,561.5 L1237.8,562.6 L1239.0,562.5 L1240.2,563.7 L1241.5,565.5 L1242.7,566.1 L1243.9,566.3 L1245.2,566.5 L1246.4,567.7 L1247.6,567.0 L1248.8,566.9 L1250.1,567.2 L1251.3,567.6 L1252.5,567.1 L1253.8,567.2 L1255.0,566.8 L1256.2,566.6 L1257.5,566.2 L1258.7,565.2 L1259.9,564.9 L1261.1,565.1 L1262.4,563.9 L1263.6,563.2 L1264.8,563.0 L1266.1,561.5 L1267.3,561.0 L1268.5,559.6 L1269.8,559.8 L1271.0,560.5 L1272.2,560.7 L1273.4,559.6 L1274.7,559.4 L1275.9,559.0 L1277.1,558.8 L1278.4,559.7 L1279.6,558.8 L1280.8,559.6 L1282.0,559.7 L1283.3,560.5 L1284.5,560.4 L1285.7,559.7 L1287.0,559.4 L1288.2,559.4 L1289.4,558.7 L1290.7,558.2 L1291.9,557.1 L1293.1,555.1 L1294.3,555.3 L1295.6,555.2 L1296.8,554.8 L1298.0,554.6 L1299.3,555.0 L1300.5,554.7 L1301.7,554.5 L1302.9,554.9 L1304.2,556.2 L1305.4,555.8 L1306.6,557.3 L1307.9,557.4 L1309.1,557.3 L1310.3,558.7 L1311.6,558.9 L1312.8,558.2 L1314.0,558.1 L1315.2,558.7 L1316.5,559.2 L1317.7,558.5 L1318.9,558.3 L1320.2,558.3 L1321.4,557.5 L1322.6,557.5 L1323.8,557.3 L1325.1,556.9 L1326.3,556.7 L1327.5,557.0 L1328.8,557.3 L1330.0,557.3 L1331.2,557.4 L1332.5,558.4 L1333.7,558.6 L1334.9,559.1 L1336.1,559.6 L1337.4,559.5 L1338.6,560.2 L1339.8,558.7 L1341.1,558.3 L1342.3,557.0 L1343.5,557.1 L1344.7,556.8 L1346.0,554.0 L1347.2,552.1 L1348.4,551.3 L1349.7,550.4 L1350.9,549.2 L1352.1,547.5 L1353.4,546.0 L1354.6,544.6 L1355.8,542.7 L1357.0,541.4 L1358.3,538.0 L1359.5,536.7 L1360.7,534.2 L1362.0,533.1 L1363.2,531.0 L1364.4,528.5 L1365.7,526.9 L1366.9,524.3 L1368.1,521.9 L1369.3,519.1 L1370.6,517.4 L1371.8,515.9 L1373.0,514.6 L1374.3,512.3 L1375.5,510.7 L1376.7,508.4 L1377.9,506.0 L1379.2,504.0 L1380.4,502.3 L1381.6,499.6 L1382.9,497.0 L1384.1,494.6 L1385.3,492.3 L1386.6,489.5 L1387.8,488.0 L1389.0,485.5 L1390.2,483.5 L1391.5,480.7 L1392.7,478.8" stroke="#e8060c" stroke-width="8"/>
<path d="M163.2,422.8 L164.4,420.1 L165.7,417.9 L166.9,416.1 L168.1,414.5 L169.3,413.1 L170.6,411.9 L171.8,410.7 L173.0,409.6 L174.3,408.6 L175.5,407.7 L176.7,406.8 L178.0,405.9 L179.2,405.0 L180.4,404.2 L181.6,403.5 L182.9,402.7 L184.1,402.0 L185.3,401.3 L186.6,400.6 L187.8,400.0 L189.0,399.4 L190.2,398.8 L191.5,398.3 L192.7,397.8 L193.9,397.3 L195.2,396.8 L196.4,396.4 L197.6,396.0 L198.9,395.6 L200.1,395.2 L201.3,394.8 L202.5,394.5 L203.8,394.2 L205.0,393.9 L206.2,393.6 L207.5,393.3 L208.7,393.0 L209.9,392.8 L211.2,392.5 L212.4,392.3 L213.6,392.1 L214.8,391.9 L216.1,391.7 L217.3,391.5 L218.5,391.4 L219.8,391.2 L221.0,391.0 L222.2,390.9 L223.4,390.8 L224.7,390.7 L225.9,390.5 L227.1,390.4 L228.4,390.3 L229.6,390.3 L230.8,390.2 L232.1,390.1 L233.3,390.0 L234.5,390.0 L235.7,389.9 L237.0,389.9 L238.2,389.8 L239.4,389.8 L240.7,389.8 L241.9,389.8 L243.1,389.7 L244.3,389.7 L245.6,389.7 L246.8,389.7 L248.0,389.7 L249.3,389.7 L250.5,389.7 L251.7,389.7 L253.0,389.7 L254.2,389.7 L255.4,389.7 L256.6,389.7 L257.9,389.7 L259.1,389.7 L260.3,389.7 L261.6,389.7 L262.8,389.7 L264.0,389.7 L265.2,389.7 L266.5,389.6 L267.7,389.6 L268.9,389.6 L270.2,389.6 L271.4,389.6 L272.6,389.6 L273.9,389.6 L275.1,389.6 L276.3,389.6 L277.5,389.6 L278.8,389.5 L280.0,389.5 L281.2,389.5 L282.5,389.5 L283.7,389.4 L284.9,389.4 L286.2,389.4 L287.4,389.3 L288.6,389.3 L289.8,389.2 L291.1,389.2 L292.3,389.1 L293.5,389.1 L294.8,389.0 L296.0,389.0 L297.2,388.9 L298.4,388.8 L299.7,388.8 L300.9,388.7 L302.1,388.6 L303.4,388.6 L304.6,388.5 L305.8,388.4 L307.1,388.4 L308.3,388.3 L309.5,388.2 L310.7,388.1 L312.0,388.0 L313.2,388.0 L314.4,387.9 L315.7,387.8 L316.9,387.7 L318.1,387.6 L319.3,387.5 L320.6,387.4 L321.8,387.3 L323.0,387.2 L324.3,387.1 L325.5,387.0 L326.7,386.9 L328.0,386.8 L329.2,386.7 L330.4,386.6 L331.6,386.5 L332.9,386.4 L334.1,386.3 L335.3,386.2 L336.6,386.1 L337.8,386.0 L339.0,385.9 L340.2,385.7 L341.5,385.6 L342.7,385.5 L343.9,385.4 L345.2,385.3 L346.4,385.2 L347.6,385.1 L348.9,385.0 L350.1,384.9 L351.3,384.8 L352.5,384.7 L353.8,384.6 L355.0,384.5 L356.2,384.4 L357.5,384.3 L358.7,384.1 L359.9,384.0 L361.1,383.9 L362.4,383.8 L363.6,383.7 L364.8,383.6 L366.1,383.5 L367.3,383.4 L368.5,383.3 L369.8,383.2 L371.0,383.1 L372.2,383.0 L373.4,382.9 L374.7,382.8 L375.9,382.7 L377.1,382.6 L378.4,382.5 L379.6,382.4 L380.8,382.3 L382.1,382.2 L383.3,382.1 L384.5,382.0 L385.7,381.9 L387.0,381.8 L388.2,381.7 L389.4,381.6 L390.7,381.5 L391.9,381.4 L393.1,381.3 L394.3,381.2 L395.6,381.1 L396.8,381.0 L398.0,380.9 L399.3,380.8 L400.5,380.7 L401.7,380.6 L403.0,380.5 L404.2,380.4 L405.4,380.3 L406.6,380.2 L407.9,380.1 L409.1,380.1 L410.3,380.0 L411.6,379.9 L412.8,379.8 L414.0,379.7 L415.2,379.6 L416.5,379.5 L417.7,379.4 L418.9,379.3 L420.2,379.2 L421.4,379.1 L422.6,379.0 L423.9,378.9 L425.1,378.8 L426.3,378.7 L427.5,378.7 L428.8,378.6 L430.0,378.5 L431.2,378.4 L432.5,378.3 L433.7,378.2 L434.9,378.1 L436.1,378.1 L437.4,378.0 L438.6,377.9 L439.8,377.8 L441.1,377.7 L442.3,377.7 L443.5,377.6 L444.8,377.5 L446.0,377.4 L447.2,377.4 L448.4,377.3 L449.7,377.2 L450.9,377.2 L452.1,377.1 L453.4,377.0 L454.6,377.0 L455.8,376.9 L457.1,376.9 L458.3,376.8 L459.5,376.7 L460.7,376.7 L462.0,376.6 L463.2,376.6 L464.4,376.5 L465.7,376.5 L466.9,376.4 L468.1,376.4 L469.3,376.3 L470.6,376.3 L471.8,376.3 L473.0,376.2 L474.3,376.2 L475.5,376.1 L476.7,376.1 L478.0,376.1 L479.2,376.0 L480.4,376.0 L481.6,376.0 L482.9,375.9 L484.1,375.9 L485.3,375.9 L486.6,375.9 L487.8,375.8 L489.0,375.8 L490.2,375.8 L491.5,375.8 L492.7,375.8 L493.9,375.7 L495.2,375.7 L496.4,375.7 L497.6,375.7 L498.9,375.7 L500.1,375.7 L501.3,375.7 L502.5,375.7 L503.8,375.7 L505.0,375.7 L506.2,375.7 L507.5,375.7 L508.7,375.6 L509.9,375.6 L511.1,375.6 L512.4,375.6 L513.6,375.6 L514.8,375.6 L516.1,375.6 L517.3,375.6 L518.5,375.6 L519.8,375.6 L521.0,375.6 L522.2,375.6 L523.4,375.6 L524.7,375.6 L525.9,375.6 L527.1,375.6 L528.4,375.6 L529.6,375.6 L530.8,375.6 L532.1,375.6 L533.3,375.6 L534.5,375.6 L535.7,375.6 L537.0,375.6 L538.2,375.5 L539.4,375.5 L540.7,375.5 L541.9,375.5 L543.1,375.5 L544.3,375.4 L545.6,375.4 L546.8,375.4 L548.0,375.3 L549.3,375.3 L550.5,375.3 L551.7,375.2 L553.0,375.2 L554.2,375.1 L555.4,375.1 L556.6,375.0 L557.9,374.9 L559.1,374.9 L560.3,374.8 L561.6,374.7 L562.8,374.7 L564.0,374.6 L565.2,374.5 L566.5,374.4 L567.7,374.3 L568.9,374.2 L570.2,374.1 L571.4,374.0 L572.6,373.9 L573.9,373.7 L575.1,373.6 L576.3,373.5 L577.5,373.3 L578.8,373.2 L580.0,373.0 L581.2,372.9 L582.5,372.7 L583.7,372.6 L584.9,372.4 L586.1,372.2 L587.4,372.1 L588.6,371.9 L589.8,371.7 L591.1,371.5 L592.3,371.3 L593.5,371.1 L594.8,370.9 L596.0,370.7 L597.2,370.5 L598.4,370.3 L599.7,370.1 L600.9,369.9 L602.1,369.7 L603.4,369.5 L604.6,369.2 L605.8,369.0 L607.0,368.8 L608.3,368.6 L609.5,368.4 L610.7,368.1 L612.0,367.9 L613.2,367.7 L614.4,367.5 L615.7,367.3 L616.9,367.0 L618.1,366.8 L619.3,366.6 L620.6,366.4 L621.8,366.2 L623.0,366.0 L624.3,365.8 L625.5,365.6 L626.7,365.4 L628.0,365.2 L629.2,365.0 L630.4,364.8 L631.6,364.6 L632.9,364.5 L634.1,364.3 L635.3,364.1 L636.6,364.0 L637.8,363.8 L639.0,363.7 L640.2,363.5 L641.5,363.4 L642.7,363.2 L643.9,363.1 L645.2,363.0 L646.4,362.9 L647.6,362.7 L648.9,362.6 L650.1,362.5 L651.3,362.4 L652.5,362.3 L653.8,362.2 L655.0,362.1 L656.2,362.0 L657.5,362.0 L658.7,361.9 L659.9,361.8 L661.1,361.7 L662.4,361.7 L663.6,361.6 L664.8,361.5 L666.1,361.5 L667.3,361.4 L668.5,361.4 L669.8,361.3 L671.0,361.3 L672.2,361.2 L673.4,361.2 L674.7,361.1 L675.9,361.1 L677.1,361.1 L678.4,361.0 L679.6,361.0 L680.8,361.0 L682.0,361.0 L683.3,360.9 L684.5,360.9 L685.7,360.9 L687.0,360.9 L688.2,360.9 L689.4,360.9 L690.7,360.9 L691.9,360.8 L693.1,360.8 L694.3,360.8 L695.6,360.8 L696.8,360.8 L698.0,360.8 L699.3,360.8 L700.5,360.8 L701.7,360.8 L703.0,360.8 L704.2,360.8 L705.4,360.8 L706.6,360.8 L707.9,360.8 L709.1,360.8 L710.3,360.8 L711.6,360.8 L712.8,360.8 L714.0,360.8 L715.2,360.8 L716.5,360.8 L717.7,360.8 L718.9,360.8 L720.2,360.8 L721.4,360.8 L722.6,360.7 L723.9,360.7 L725.1,360.7 L726.3,360.7 L727.5,360.7 L728.8,360.7 L730.0,360.6 L731.2,360.6 L732.5,360.6 L733.7,360.6 L734.9,360.5 L736.1,360.5 L737.4,360.5 L738.6,360.4 L739.8,360.4 L741.1,360.4 L742.3,360.3 L743.5,360.3 L744.8,360.3 L746.0,360.2 L747.2,360.2 L748.4,360.1 L749.7,360.1 L750.9,360.1 L752.1,360.0 L753.4,360.0 L754.6,359.9 L755.8,359.9 L757.0,359.8 L758.3,359.8 L759.5,359.7 L760.7,359.7 L762.0,359.6 L763.2,359.5 L764.4,359.5 L765.7,359.4 L766.9,359.4 L768.1,359.3 L769.3,359.3 L770.6,359.2 L771.8,359.1 L773.0,359.1 L774.3,359.0 L775.5,358.9 L776.7,358.9 L778.0,358.8 L779.2,358.7 L780.4,358.7 L781.6,358.6 L782.9,358.5 L784.1,358.5 L785.3,358.4 L786.6,358.3 L787.8,358.2 L789.0,358.2 L790.2,358.1 L791.5,358.0 L792.7,358.0 L793.9,357.9 L795.2,357.8 L796.4,357.7 L797.6,357.7 L798.9,357.6 L800.1,357.5 L801.3,357.4 L802.5,357.4 L803.8,357.3 L805.0,357.2 L806.2,357.1 L807.5,357.0 L808.7,357.0 L809.9,356.9 L811.1,356.8 L812.4,356.7 L813.6,356.7 L814.8,356.6 L816.1,356.5 L817.3,356.4 L818.5,356.4 L819.8,356.3 L821.0,356.2 L822.2,356.1 L823.4,356.1 L824.7,356.0 L825.9,355.9 L827.1,355.8 L828.4,355.8 L829.6,355.7 L830.8,355.6 L832.0,355.5 L833.3,355.5 L834.5,355.4 L835.7,355.3 L837.0,355.2 L838.2,355.2 L839.4,355.1 L840.7,355.0 L841.9,354.9 L843.1,354.8 L844.3,354.8 L845.6,354.7 L846.8,354.6 L848.0,354.5 L849.3,354.5 L850.5,354.4 L851.7,354.3 L852.9,354.2 L854.2,354.1 L855.4,354.1 L856.6,354.0 L857.9,353.9 L859.1,353.8 L860.3,353.7 L861.6,353.6 L862.8,353.6 L864.0,353.5 L865.2,353.4 L866.5,353.3 L867.7,353.2 L868.9,353.1 L870.2,353.0 L871.4,352.9 L872.6,352.8 L873.9,352.8 L875.1,352.7 L876.3,352.6 L877.5,352.5 L878.8,352.4 L880.0,352.3 L881.2,352.2 L882.5,352.1 L883.7,352.0 L884.9,351.9 L886.1,351.9 L887.4,351.8 L888.6,351.7 L889.8,351.6 L891.1,351.5 L892.3,351.4 L893.5,351.4 L894.8,351.3 L896.0,351.2 L897.2,351.1 L898.4,351.0 L899.7,351.0 L900.9,350.9 L902.1,350.8 L903.4,350.8 L904.6,350.7 L905.8,350.6 L907.0,350.6 L908.3,350.5 L909.5,350.4 L910.7,350.4 L912.0,350.3 L913.2,350.2 L914.4,350.2 L915.7,350.1 L916.9,350.1 L918.1,350.0 L919.3,350.0 L920.6,349.9 L921.8,349.9 L923.0,349.9 L924.3,349.8 L925.5,349.8 L926.7,349.7 L927.9,349.7 L929.2,349.7 L930.4,349.6 L931.6,349.6 L932.9,349.6 L934.1,349.5 L935.3,349.5 L936.6,349.5 L937.8,349.5 L939.0,349.4 L940.2,349.4 L941.5,349.4 L942.7,349.4 L943.9,349.4 L945.2,349.4 L946.4,349.3 L947.6,349.3 L948.9,349.3 L950.1,349.3 L951.3,349.3 L952.5,349.3 L953.8,349.3 L955.0,349.3 L956.2,349.3 L957.5,349.3 L958.7,349.3 L959.9,349.3 L961.1,349.3 L962.4,349.3 L963.6,349.2 L964.8,349.2 L966.1,349.2 L967.3,349.2 L968.5,349.2 L969.8,349.2 L971.0,349.2 L972.2,349.2 L973.4,349.2 L974.7,349.2 L975.9,349.2 L977.1,349.2 L978.4,349.2 L979.6,349.2 L980.8,349.2 L982.0,349.2 L983.3,349.2 L984.5,349.2 L985.7,349.2 L987.0,349.2 L988.2,349.2 L989.4,349.2 L990.7,349.2 L991.9,349.2 L993.1,349.2 L994.3,349.2 L995.6,349.1 L996.8,349.1 L998.0,349.1 L999.3,349.1 L1000.5,349.1 L1001.7,349.0 L1002.9,349.0 L1004.2,349.0 L1005.4,348.9 L1006.6,348.9 L1007.9,348.9 L1009.1,348.8 L1010.3,348.8 L1011.6,348.7 L1012.8,348.7 L1014.0,348.6 L1015.2,348.5 L1016.5,348.5 L1017.7,348.4 L1018.9,348.4 L1020.2,348.3 L1021.4,348.2 L1022.6,348.1 L1023.9,348.1 L1025.1,348.0 L1026.3,347.9 L1027.5,347.8 L1028.8,347.7 L1030.0,347.6 L1031.2,347.6 L1032.5,347.5 L1033.7,347.4 L1034.9,347.3 L1036.1,347.2 L1037.4,347.1 L1038.6,347.0 L1039.8,346.8 L1041.1,346.7 L1042.3,346.6 L1043.5,346.5 L1044.8,346.4 L1046.0,346.3 L1047.2,346.1 L1048.4,346.0 L1049.7,345.9 L1050.9,345.8 L1052.1,345.6 L1053.4,345.5 L1054.6,345.4 L1055.8,345.2 L1057.0,345.1 L1058.3,345.0 L1059.5,344.8 L1060.7,344.7 L1062.0,344.6 L1063.2,344.4 L1064.4,344.3 L1065.7,344.1 L1066.9,344.0 L1068.1,343.8 L1069.3,343.7 L1070.6,343.6 L1071.8,343.4 L1073.0,343.3 L1074.3,343.2 L1075.5,343.0 L1076.7,342.9 L1077.9,342.8 L1079.2,342.6 L1080.4,342.5 L1081.6,342.4 L1082.9,342.3 L1084.1,342.1 L1085.3,342.0 L1086.6,341.9 L1087.8,341.8 L1089.0,341.7 L1090.2,341.6 L1091.5,341.5 L1092.7,341.4 L1093.9,341.3 L1095.2,341.2 L1096.4,341.1 L1097.6,341.0 L1098.8,340.9 L1100.1,340.8 L1101.3,340.7 L1102.5,340.6 L1103.8,340.5 L1105.0,340.5 L1106.2,340.4 L1107.5,340.3 L1108.7,340.3 L1109.9,340.2 L1111.1,340.1 L1112.4,340.1 L1113.6,340.0 L1114.8,339.9 L1116.1,339.9 L1117.3,339.8 L1118.5,339.8 L1119.8,339.7 L1121.0,339.7 L1122.2,339.7 L1123.4,339.6 L1124.7,339.6 L1125.9,339.5 L1127.1,339.5 L1128.4,339.5 L1129.6,339.5 L1130.8,339.4 L1132.0,339.4 L1133.3,339.4 L1134.5,339.4 L1135.7,339.4 L1137.0,339.3 L1138.2,339.3 L1139.4,339.3 L1140.7,339.3 L1141.9,339.3 L1143.1,339.3 L1144.3,339.3 L1145.6,339.3 L1146.8,339.3 L1148.0,339.3 L1149.3,339.3 L1150.5,339.3 L1151.7,339.3 L1152.9,339.3 L1154.2,339.3 L1155.4,339.3 L1156.6,339.3 L1157.9,339.3 L1159.1,339.3 L1160.3,339.3 L1161.6,339.3 L1162.8,339.3 L1164.0,339.3 L1165.2,339.3 L1166.5,339.3 L1167.7,339.2 L1168.9,339.2 L1170.2,339.2 L1171.4,339.2 L1172.6,339.2 L1173.8,339.2 L1175.1,339.2 L1176.3,339.2 L1177.5,339.2 L1178.8,339.2 L1180.0,339.2 L1181.2,339.2 L1182.5,339.1 L1183.7,339.1 L1184.9,339.1 L1186.1,339.1 L1187.4,339.1 L1188.6,339.0 L1189.8,339.0 L1191.1,339.0 L1192.3,339.0 L1193.5,338.9 L1194.8,338.9 L1196.0,338.9 L1197.2,338.8 L1198.4,338.8 L1199.7,338.8 L1200.9,338.8 L1202.1,338.7 L1203.4,338.7 L1204.6,338.7 L1205.8,338.6 L1207.0,338.6 L1208.3,338.5 L1209.5,338.5 L1210.7,338.5 L1212.0,338.4 L1213.2,338.4 L1214.4,338.3 L1215.7,338.3 L1216.9,338.3 L1218.1,338.2 L1219.3,338.2 L1220.6,338.1 L1221.8,338.1 L1223.0,338.0 L1224.3,338.0 L1225.5,337.9 L1226.7,337.9 L1227.9,337.8 L1229.2,337.8 L1230.4,337.7 L1231.6,337.6 L1232.9,337.6 L1234.1,337.5 L1235.3,337.5 L1236.6,337.4 L1237.8,337.3 L1239.0,337.3 L1240.2,337.2 L1241.5,337.2 L1242.7,337.1 L1243.9,337.0 L1245.2,337.0 L1246.4,336.9 L1247.6,336.8 L1248.8,336.8 L1250.1,336.7 L1251.3,336.7 L1252.5,336.6 L1253.8,336.5 L1255.0,336.5 L1256.2,336.4 L1257.5,336.3 L1258.7,336.3 L1259.9,336.2 L1261.1,336.1 L1262.4,336.1 L1263.6,336.0 L1264.8,336.0 L1266.1,335.9 L1267.3,335.8 L1268.5,335.8 L1269.8,335.7 L1271.0,335.7 L1272.2,335.6 L1273.4,335.6 L1274.7,335.5 L1275.9,335.4 L1277.1,335.4 L1278.4,335.3 L1279.6,335.3 L1280.8,335.2 L1282.0,335.2 L1283.3,335.1 L1284.5,335.1 L1285.7,335.0 L1287.0,334.9 L1288.2,334.9 L1289.4,334.8 L1290.7,334.8 L1291.9,334.7 L1293.1,334.7 L1294.3,334.6 L1295.6,334.6 L1296.8,334.5 L1298.0,334.5 L1299.3,334.4 L1300.5,334.3 L1301.7,334.3 L1302.9,334.2 L1304.2,334.2 L1305.4,334.1 L1306.6,334.1 L1307.9,334.0 L1309.1,334.0 L1310.3,333.9 L1311.6,333.9 L1312.8,333.8 L1314.0,333.8 L1315.2,333.7 L1316.5,333.6 L1317.7,333.6 L1318.9,333.5 L1320.2,333.5 L1321.4,333.4 L1322.6,333.4 L1323.8,333.3 L1325.1,333.3 L1326.3,333.2 L1327.5,333.2 L1328.8,333.1 L1330.0,333.0 L1331.2,333.0 L1332.5,332.9 L1333.7,332.9 L1334.9,332.8 L1336.1,332.8 L1337.4,332.7 L1338.6,332.7 L1339.8,332.6 L1341.1,332.6 L1342.3,332.5 L1343.5,332.5 L1344.7,332.4 L1346.0,332.4 L1347.2,332.3 L1348.4,332.3 L1349.7,332.2 L1350.9,332.2 L1352.1,332.1 L1353.4,332.1 L1354.6,332.0 L1355.8,332.0 L1357.0,332.0 L1358.3,331.9 L1359.5,331.9 L1360.7,331.8 L1362.0,331.8 L1363.2,331.8 L1364.4,331.7 L1365.7,331.7 L1366.9,331.7 L1368.1,331.7 L1369.3,331.6 L1370.6,331.6 L1371.8,331.6 L1373.0,331.6 L1374.3,331.5 L1375.5,331.5 L1376.7,331.5 L1377.9,331.5 L1379.2,331.5 L1380.4,331.4 L1381.6,331.4 L1382.9,331.4 L1384.1,331.4 L1385.3,331.4 L1386.6,331.4 L1387.8,331.4 L1389.0,331.4 L1390.2,331.3 L1391.5,331.3 L1392.7,331.3" stroke="#000" stroke-width="3"/>
<path d="M163.2,443.4 L164.4,446.1 L165.7,448.3 L166.9,450.1 L168.1,451.7 L169.3,453.1 L170.6,454.3 L171.8,455.5 L173.0,456.6 L174.3,457.6 L175.5,458.5 L176.7,459.4 L178.0,460.3 L179.2,461.2 L180.4,462.0 L181.6,462.7 L182.9,463.5 L184.1,464.2 L185.3,464.9 L186.6,465.6 L187.8,466.2 L189.0,466.8 L190.2,467.4 L191.5,467.9 L192.7,468.4 L193.9,468.9 L195.2,469.4 L196.4,469.8 L197.6,470.2 L198.9,470.6 L200.1,471.0 L201.3,471.4 L202.5,471.7 L203.8,472.0 L205.0,472.3 L206.2,472.6 L207.5,472.9 L208.7,473.2 L209.9,473.4 L211.2,473.7 L212.4,473.9 L213.6,474.1 L214.8,474.3 L216.1,474.5 L217.3,474.7 L218.5,474.8 L219.8,475.0 L221.0,475.2 L222.2,475.3 L223.4,475.4 L224.7,475.5 L225.9,475.7 L227.1,475.8 L228.4,475.9 L229.6,475.9 L230.8,476.0 L232.1,476.1 L233.3,476.2 L234.5,476.2 L235.7,476.3 L237.0,476.3 L238.2,476.4 L239.4,476.4 L240.7,476.4 L241.9,476.4 L243.1,476.5 L244.3,476.5 L245.6,476.5 L246.8,476.5 L248.0,476.5 L249.3,476.5 L250.5,476.5 L251.7,476.5 L253.0,476.5 L254.2,476.5 L255.4,476.5 L256.6,476.5 L257.9,476.5 L259.1,476.5 L260.3,476.5 L261.6,476.5 L262.8,476.5 L264.0,476.5 L265.2,476.5 L266.5,476.6 L267.7,476.6 L268.9,476.6 L270.2,476.6 L271.4,476.6 L272.6,476.6 L273.9,476.6 L275.1,476.6 L276.3,476.6 L277.5,476.6 L278.8,476.7 L280.0,476.7 L281.2,476.7 L282.5,476.7 L283.7,476.8 L284.9,476.8 L286.2,476.8 L287.4,476.9 L288.6,476.9 L289.8,477.0 L291.1,477.0 L292.3,477.1 L293.5,477.1 L294.8,477.2 L296.0,477.2 L297.2,477.3 L298.4,477.4 L299.7,477.4 L300.9,477.5 L302.1,477.6 L303.4,477.6 L304.6,477.7 L305.8,477.8 L307.1,477.8 L308.3,477.9 L309.5,478.0 L310.7,478.1 L312.0,478.2 L313.2,478.2 L314.4,478.3 L315.7,478.4 L316.9,478.5 L318.1,478.6 L319.3,478.7 L320.6,478.8 L321.8,478.9 L323.0,479.0 L324.3,479.1 L325.5,479.2 L326.7,479.3 L328.0,479.4 L329.2,479.5 L330.4,479.6 L331.6,479.7 L332.9,479.8 L334.1,479.9 L335.3,480.0 L336.6,480.1 L337.8,480.2 L339.0,480.3 L340.2,480.5 L341.5,480.6 L342.7,480.7 L343.9,480.8 L345.2,480.9 L346.4,481.0 L347.6,481.1 L348.9,481.2 L350.1,481.3 L351.3,481.4 L352.5,481.5 L353.8,481.6 L355.0,481.7 L356.2,481.8 L357.5,481.9 L358.7,482.1 L359.9,482.2 L361.1,482.3 L362.4,482.4 L363.6,482.5 L364.8,482.6 L366.1,482.7 L367.3,482.8 L368.5,482.9 L369.8,483.0 L371.0,483.1 L372.2,483.2 L373.4,483.3 L374.7,483.4 L375.9,483.5 L377.1,483.6 L378.4,483.7 L379.6,483.8 L380.8,483.9 L382.1,484.0 L383.3,484.1 L384.5,484.2 L385.7,484.3 L387.0,484.4 L388.2,484.5 L389.4,484.6 L390.7,484.7 L391.9,484.8 L393.1,484.9 L394.3,485.0 L395.6,485.1 L396.8,485.2 L398.0,485.3 L399.3,485.4 L400.5,485.5 L401.7,485.6 L403.0,485.7 L404.2,485.8 L405.4,485.9 L406.6,486.0 L407.9,486.1 L409.1,486.1 L410.3,486.2 L411.6,486.3 L412.8,486.4 L414.0,486.5 L415.2,486.6 L416.5,486.7 L417.7,486.8 L418.9,486.9 L420.2,487.0 L421.4,487.1 L422.6,487.2 L423.9,487.3 L425.1,487.4 L426.3,487.5 L427.5,487.5 L428.8,487.6 L430.0,487.7 L431.2,487.8 L432.5,487.9 L433.7,488.0 L434.9,488.1 L436.1,488.1 L437.4,488.2 L438.6,488.3 L439.8,488.4 L441.1,488.5 L442.3,488.5 L443.5,488.6 L444.8,488.7 L446.0,488.8 L447.2,488.8 L448.4,488.9 L449.7,489.0 L450.9,489.0 L452.1,489.1 L453.4,489.2 L454.6,489.2 L455.8,489.3 L457.1,489.3 L458.3,489.4 L459.5,489.5 L460.7,489.5 L462.0,489.6 L463.2,489.6 L464.4,489.7 L465.7,489.7 L466.9,489.8 L468.1,489.8 L469.3,489.9 L470.6,489.9 L471.8,489.9 L473.0,490.0 L474.3,490.0 L475.5,490.1 L476.7,490.1 L478.0,490.1 L479.2,490.2 L480.4,490.2 L481.6,490.2 L482.9,490.3 L484.1,490.3 L485.3,490.3 L486.6,490.3 L487.8,490.4 L489.0,490.4 L490.2,490.4 L491.5,490.4 L492.7,490.4 L493.9,490.5 L495.2,490.5 L496.4,490.5 L497.6,490.5 L498.9,490.5 L500.1,490.5 L501.3,490.5 L502.5,490.5 L503.8,490.5 L505.0,490.5 L506.2,490.5 L507.5,490.5 L508.7,490.6 L509.9,490.6 L511.1,490.6 L512.4,490.6 L513.6,490.6 L514.8,490.6 L516.1,490.6 L517.3,490.6 L518.5,490.6 L519.8,490.6 L521.0,490.6 L522.2,490.6 L523.4,490.6 L524.7,490.6 L525.9,490.6 L527.1,490.6 L528.4,490.6 L529.6,490.6 L530.8,490.6 L532.1,490.6 L533.3,490.6 L534.5,490.6 L535.7,490.6 L537.0,490.6 L538.2,490.7 L539.4,490.7 L540.7,490.7 L541.9,490.7 L543.1,490.7 L544.3,490.8 L545.6,490.8 L546.8,490.8 L548.0,490.9 L549.3,490.9 L550.5,490.9 L551.7,491.0 L553.0,491.0 L554.2,491.1 L555.4,491.1 L556.6,491.2 L557.9,491.3 L559.1,491.3 L560.3,491.4 L561.6,491.5 L562.8,491.5 L564.0,491.6 L565.2,491.7 L566.5,491.8 L567.7,491.9 L568.9,492.0 L570.2,492.1 L571.4,492.2 L572.6,492.3 L573.9,492.5 L575.1,492.6 L576.3,492.7 L577.5,492.9 L578.8,493.0 L580.0,493.2 L581.2,493.3 L582.5,493.5 L583.7,493.6 L584.9,493.8 L586.1,494.0 L587.4,494.1 L588.6,494.3 L589.8,494.5 L591.1,494.7 L592.3,494.9 L593.5,495.1 L594.8,495.3 L596.0,495.5 L597.2,495.7 L598.4,495.9 L599.7,496.1 L600.9,496.3 L602.1,496.5 L603.4,496.7 L604.6,497.0 L605.8,497.2 L607.0,497.4 L608.3,497.6 L609.5,497.8 L610.7,498.1 L612.0,498.3 L613.2,498.5 L614.4,498.7 L615.7,498.9 L616.9,499.2 L618.1,499.4 L619.3,499.6 L620.6,499.8 L621.8,500.0 L623.0,500.2 L624.3,500.4 L625.5,500.6 L626.7,500.8 L628.0,501.0 L629.2,501.2 L630.4,501.4 L631.6,501.6 L632.9,501.7 L634.1,501.9 L635.3,502.1 L636.6,502.2 L637.8,502.4 L639.0,502.5 L640.2,502.7 L641.5,502.8 L642.7,503.0 L643.9,503.1 L645.2,503.2 L646.4,503.3 L647.6,503.5 L648.9,503.6 L650.1,503.7 L651.3,503.8 L652.5,503.9 L653.8,504.0 L655.0,504.1 L656.2,504.2 L657.5,504.2 L658.7,504.3 L659.9,504.4 L661.1,504.5 L662.4,504.5 L663.6,504.6 L664.8,504.7 L666.1,504.7 L667.3,504.8 L668.5,504.8 L669.8,504.9 L671.0,504.9 L672.2,505.0 L673.4,505.0 L674.7,505.1 L675.9,505.1 L677.1,505.1 L678.4,505.2 L679.6,505.2 L680.8,505.2 L682.0,505.2 L683.3,505.3 L684.5,505.3 L685.7,505.3 L687.0,505.3 L688.2,505.3 L689.4,505.3 L690.7,505.3 L691.9,505.4 L693.1,505.4 L694.3,505.4 L695.6,505.4 L696.8,505.4 L698.0,505.4 L699.3,505.4 L700.5,505.4 L701.7,505.4 L703.0,505.4 L704.2,505.4 L705.4,505.4 L706.6,505.4 L707.9,505.4 L709.1,505.4 L710.3,505.4 L711.6,505.4 L712.8,505.4 L714.0,505.4 L715.2,505.4 L716.5,505.4 L717.7,505.4 L718.9,505.4 L720.2,505.4 L721.4,505.4 L722.6,505.5 L723.9,505.5 L725.1,505.5 L726.3,505.5 L727.5,505.5 L728.8,505.5 L730.0,505.6 L731.2,505.6 L732.5,505.6 L733.7,505.6 L734.9,505.7 L736.1,505.7 L737.4,505.7 L738.6,505.8 L739.8,505.8 L741.1,505.8 L742.3,505.9 L743.5,505.9 L744.8,505.9 L746.0,506.0 L747.2,506.0 L748.4,506.1 L749.7,506.1 L750.9,506.1 L752.1,506.2 L753.4,506.2 L754.6,506.3 L755.8,506.3 L757.0,506.4 L758.3,506.4 L759.5,506.5 L760.7,506.5 L762.0,506.6 L763.2,506.7 L764.4,506.7 L765.7,506.8 L766.9,506.8 L768.1,506.9 L769.3,506.9 L770.6,507.0 L771.8,507.1 L773.0,507.1 L774.3,507.2 L775.5,507.3 L776.7,507.3 L778.0,507.4 L779.2,507.5 L780.4,507.5 L781.6,507.6 L782.9,507.7 L784.1,507.7 L785.3,507.8 L786.6,507.9 L787.8,508.0 L789.0,508.0 L790.2,508.1 L791.5,508.2 L792.7,508.2 L793.9,508.3 L795.2,508.4 L796.4,508.5 L797.6,508.5 L798.9,508.6 L800.1,508.7 L801.3,508.8 L802.5,508.8 L803.8,508.9 L805.0,509.0 L806.2,509.1 L807.5,509.2 L808.7,509.2 L809.9,509.3 L811.1,509.4 L812.4,509.5 L813.6,509.5 L814.8,509.6 L816.1,509.7 L817.3,509.8 L818.5,509.8 L819.8,509.9 L821.0,510.0 L822.2,510.1 L823.4,510.1 L824.7,510.2 L825.9,510.3 L827.1,510.4 L828.4,510.4 L829.6,510.5 L830.8,510.6 L832.0,510.7 L833.3,510.7 L834.5,510.8 L835.7,510.9 L837.0,511.0 L838.2,511.0 L839.4,511.1 L840.7,511.2 L841.9,511.3 L843.1,511.4 L844.3,511.4 L845.6,511.5 L846.8,511.6 L848.0,511.7 L849.3,511.7 L850.5,511.8 L851.7,511.9 L852.9,512.0 L854.2,512.1 L855.4,512.1 L856.6,512.2 L857.9,512.3 L859.1,512.4 L860.3,512.5 L861.6,512.6 L862.8,512.6 L864.0,512.7 L865.2,512.8 L866.5,512.9 L867.7,513.0 L868.9,513.1 L870.2,513.2 L871.4,513.3 L872.6,513.4 L873.9,513.4 L875.1,513.5 L876.3,513.6 L877.5,513.7 L878.8,513.8 L880.0,513.9 L881.2,514.0 L882.5,514.1 L883.7,514.2 L884.9,514.3 L886.1,514.3 L887.4,514.4 L888.6,514.5 L889.8,514.6 L891.1,514.7 L892.3,514.8 L893.5,514.8 L894.8,514.9 L896.0,515.0 L897.2,515.1 L898.4,515.2 L899.7,515.2 L900.9,515.3 L902.1,515.4 L903.4,515.4 L904.6,515.5 L905.8,515.6 L907.0,515.6 L908.3,515.7 L909.5,515.8 L910.7,515.8 L912.0,515.9 L913.2,516.0 L914.4,516.0 L915.7,516.1 L916.9,516.1 L918.1,516.2 L919.3,516.2 L920.6,516.3 L921.8,516.3 L923.0,516.3 L924.3,516.4 L925.5,516.4 L926.7,516.5 L927.9,516.5 L929.2,516.5 L930.4,516.6 L931.6,516.6 L932.9,516.6 L934.1,516.7 L935.3,516.7 L936.6,516.7 L937.8,516.7 L939.0,516.8 L940.2,516.8 L941.5,516.8 L942.7,516.8 L943.9,516.8 L945.2,516.8 L946.4,516.9 L947.6,516.9 L948.9,516.9 L950.1,516.9 L951.3,516.9 L952.5,516.9 L953.8,516.9 L955.0,516.9 L956.2,516.9 L957.5,516.9 L958.7,516.9 L959.9,516.9 L961.1,516.9 L962.4,516.9 L963.6,517.0 L964.8,517.0 L966.1,517.0 L967.3,517.0 L968.5,517.0 L969.8,517.0 L971.0,517.0 L972.2,517.0 L973.4,517.0 L974.7,517.0 L975.9,517.0 L977.1,517.0 L978.4,517.0 L979.6,517.0 L980.8,517.0 L982.0,517.0 L983.3,517.0 L984.5,517.0 L985.7,517.0 L987.0,517.0 L988.2,517.0 L989.4,517.0 L990.7,517.0 L991.9,517.0 L993.1,517.0 L994.3,517.0 L995.6,517.1 L996.8,517.1 L998.0,517.1 L999.3,517.1 L1000.5,517.1 L1001.7,517.2 L1002.9,517.2 L1004.2,517.2 L1005.4,517.3 L1006.6,517.3 L1007.9,517.3 L1009.1,517.4 L1010.3,517.4 L1011.6,517.5 L1012.8,517.5 L1014.0,517.6 L1015.2,517.7 L1016.5,517.7 L1017.7,517.8 L1018.9,517.8 L1020.2,517.9 L1021.4,518.0 L1022.6,518.1 L1023.9,518.1 L1025.1,518.2 L1026.3,518.3 L1027.5,518.4 L1028.8,518.5 L1030.0,518.6 L1031.2,518.6 L1032.5,518.7 L1033.7,518.8 L1034.9,518.9 L1036.1,519.0 L1037.4,519.1 L1038.6,519.2 L1039.8,519.4 L1041.1,519.5 L1042.3,519.6 L1043.5,519.7 L1044.8,519.8 L1046.0,519.9 L1047.2,520.1 L1048.4,520.2 L1049.7,520.3 L1050.9,520.4 L1052.1,520.6 L1053.4,520.7 L1054.6,520.8 L1055.8,521.0 L1057.0,521.1 L1058.3,521.2 L1059.5,521.4 L1060.7,521.5 L1062.0,521.6 L1063.2,521.8 L1064.4,521.9 L1065.7,522.1 L1066.9,522.2 L1068.1,522.4 L1069.3,522.5 L1070.6,522.6 L1071.8,522.8 L1073.0,522.9 L1074.3,523.0 L1075.5,523.2 L1076.7,523.3 L1077.9,523.4 L1079.2,523.6 L1080.4,523.7 L1081.6,523.8 L1082.9,523.9 L1084.1,524.1 L1085.3,524.2 L1086.6,524.3 L1087.8,524.4 L1089.0,524.5 L1090.2,524.6 L1091.5,524.7 L1092.7,524.8 L1093.9,524.9 L1095.2,525.0 L1096.4,525.1 L1097.6,525.2 L1098.8,525.3 L1100.1,525.4 L1101.3,525.5 L1102.5,525.6 L1103.8,525.7 L1105.0,525.7 L1106.2,525.8 L1107.5,525.9 L1108.7,525.9 L1109.9,526.0 L1111.1,526.1 L1112.4,526.1 L1113.6,526.2 L1114.8,526.3 L1116.1,526.3 L1117.3,526.4 L1118.5,526.4 L1119.8,526.5 L1121.0,526.5 L1122.2,526.5 L1123.4,526.6 L1124.7,526.6 L1125.9,526.7 L1127.1,526.7 L1128.4,526.7 L1129.6,526.7 L1130.8,526.8 L1132.0,526.8 L1133.3,526.8 L1134.5,526.8 L1135.7,526.8 L1137.0,526.9 L1138.2,526.9 L1139.4,526.9 L1140.7,526.9 L1141.9,526.9 L1143.1,526.9 L1144.3,526.9 L1145.6,526.9 L1146.8,526.9 L1148.0,526.9 L1149.3,526.9 L1150.5,526.9 L1151.7,526.9 L1152.9,526.9 L1154.2,526.9 L1155.4,526.9 L1156.6,526.9 L1157.9,526.9 L1159.1,526.9 L1160.3,526.9 L1161.6,526.9 L1162.8,526.9 L1164.0,526.9 L1165.2,526.9 L1166.5,526.9 L1167.7,527.0 L1168.9,527.0 L1170.2,527.0 L1171.4,527.0 L1172.6,527.0 L1173.8,527.0 L1175.1,527.0 L1176.3,527.0 L1177.5,527.0 L1178.8,527.0 L1180.0,527.0 L1181.2,527.0 L1182.5,527.1 L1183.7,527.1 L1184.9,527.1 L1186.1,527.1 L1187.4,527.1 L1188.6,527.2 L1189.8,527.2 L1191.1,527.2 L1192.3,527.2 L1193.5,527.3 L1194.8,527.3 L1196.0,527.3 L1197.2,527.4 L1198.4,527.4 L1199.7,527.4 L1200.9,527.4 L1202.1,527.5 L1203.4,527.5 L1204.6,527.5 L1205.8,527.6 L1207.0,527.6 L1208.3,527.7 L1209.5,527.7 L1210.7,527.7 L1212.0,527.8 L1213.2,527.8 L1214.4,527.9 L1215.7,527.9 L1216.9,527.9 L1218.1,528.0 L1219.3,528.0 L1220.6,528.1 L1221.8,528.1 L1223.0,528.2 L1224.3,528.2 L1225.5,528.3 L1226.7,528.3 L1227.9,528.4 L1229.2,528.4 L1230.4,528.5 L1231.6,528.6 L1232.9,528.6 L1234.1,528.7 L1235.3,528.7 L1236.6,528.8 L1237.8,528.9 L1239.0,528.9 L1240.2,529.0 L1241.5,529.0 L1242.7,529.1 L1243.9,529.2 L1245.2,529.2 L1246.4,529.3 L1247.6,529.4 L1248.8,529.4 L1250.1,529.5 L1251.3,529.5 L1252.5,529.6 L1253.8,529.7 L1255.0,529.7 L1256.2,529.8 L1257.5,529.9 L1258.7,529.9 L1259.9,530.0 L1261.1,530.1 L1262.4,530.1 L1263.6,530.2 L1264.8,530.2 L1266.1,530.3 L1267.3,530.4 L1268.5,530.4 L1269.8,530.5 L1271.0,530.5 L1272.2,530.6 L1273.4,530.6 L1274.7,530.7 L1275.9,530.8 L1277.1,530.8 L1278.4,530.9 L1279.6,530.9 L1280.8,531.0 L1282.0,531.0 L1283.3,531.1 L1284.5,531.1 L1285.7,531.2 L1287.0,531.3 L1288.2,531.3 L1289.4,531.4 L1290.7,531.4 L1291.9,531.5 L1293.1,531.5 L1294.3,531.6 L1295.6,531.6 L1296.8,531.7 L1298.0,531.7 L1299.3,531.8 L1300.5,531.9 L1301.7,531.9 L1302.9,532.0 L1304.2,532.0 L1305.4,532.1 L1306.6,532.1 L1307.9,532.2 L1309.1,532.2 L1310.3,532.3 L1311.6,532.3 L1312.8,532.4 L1314.0,532.4 L1315.2,532.5 L1316.5,532.6 L1317.7,532.6 L1318.9,532.7 L1320.2,532.7 L1321.4,532.8 L1322.6,532.8 L1323.8,532.9 L1325.1,532.9 L1326.3,533.0 L1327.5,533.0 L1328.8,533.1 L1330.0,533.2 L1331.2,533.2 L1332.5,533.3 L1333.7,533.3 L1334.9,533.4 L1336.1,533.4 L1337.4,533.5 L1338.6,533.5 L1339.8,533.6 L1341.1,533.6 L1342.3,533.7 L1343.5,533.7 L1344.7,533.8 L1346.0,533.8 L1347.2,533.9 L1348.4,533.9 L1349.7,534.0 L1350.9,534.0 L1352.1,534.1 L1353.4,534.1 L1354.6,534.2 L1355.8,534.2 L1357.0,534.2 L1358.3,534.3 L1359.5,534.3 L1360.7,534.4 L1362.0,534.4 L1363.2,534.4 L1364.4,534.5 L1365.7,534.5 L1366.9,534.5 L1368.1,534.5 L1369.3,534.6 L1370.6,534.6 L1371.8,534.6 L1373.0,534.6 L1374.3,534.7 L1375.5,534.7 L1376.7,534.7 L1377.9,534.7 L1379.2,534.7 L1380.4,534.8 L1381.6,534.8 L1382.9,534.8 L1384.1,534.8 L1385.3,534.8 L1386.6,534.8 L1387.8,534.8 L1389.0,534.8 L1390.2,534.9 L1391.5,534.9 L1392.7,534.9" stroke="#000" stroke-width="3"/>
</g>
<g stroke="#262626" stroke-width="2.2" fill="none">
<path d="M162.9,27.9 V704.3000000000001"/>
<path d="M151,703.2 H1392"/>
<path d="M151,29.0 H162.9"/>
<path d="M151,96.0 H162.9"/>
<path d="M151,163.7 H162.9"/>
<path d="M151,231.3 H162.9"/>
<path d="M151,298.3 H162.9"/>
<path d="M151,365.4 H162.9"/>
<path d="M151,433.2 H162.9"/>
<path d="M151,500.0 H162.9"/>
<path d="M151,567.0 H162.9"/>
<path d="M151,634.3 H162.9"/>
<path d="M162.90,703.2 V713"/>
<path d="M224.38,703.2 V713"/>
<path d="M285.85,703.2 V713"/>
<path d="M347.33,703.2 V713"/>
<path d="M408.80,703.2 V713"/>
<path d="M470.27,703.2 V713"/>
<path d="M531.75,703.2 V713"/>
<path d="M593.23,703.2 V713"/>
<path d="M654.70,703.2 V713"/>
<path d="M716.17,703.2 V713"/>
<path d="M777.65,703.2 V713"/>
<path d="M839.12,703.2 V713"/>
<path d="M900.60,703.2 V713"/>
<path d="M962.08,703.2 V713"/>
<path d="M1023.55,703.2 V713"/>
<path d="M1085.03,703.2 V713"/>
<path d="M1146.50,703.2 V713"/>
<path d="M1207.98,703.2 V713"/>
<path d="M1269.45,703.2 V713"/>
<path d="M1330.93,703.2 V713"/>
</g>
<g font-family='"Liberation Sans", Arial, sans-serif' font-size="33.6" fill="#1a1a1a" stroke="#1a1a1a" stroke-width="0.45">
<text x="81.6" y="39.5" textLength="46.0" lengthAdjust="spacingAndGlyphs">1.2</text>
<text x="109.2" y="107.7" textLength="18.4" lengthAdjust="spacingAndGlyphs">1</text>
<text x="81.6" y="175.4" textLength="46.0" lengthAdjust="spacingAndGlyphs">0.8</text>
<text x="81.6" y="243.0" textLength="46.0" lengthAdjust="spacingAndGlyphs">0.6</text>
<text x="81.6" y="310.0" textLength="46.0" lengthAdjust="spacingAndGlyphs">0.4</text>
<text x="81.6" y="377.1" textLength="46.0" lengthAdjust="spacingAndGlyphs">0.2</text>
<text x="109.2" y="444.9" textLength="18.4" lengthAdjust="spacingAndGlyphs">0</text>
<text x="70.5" y="511.7" textLength="57.1" lengthAdjust="spacingAndGlyphs">-0.2</text>
<text x="70.5" y="578.7" textLength="57.1" lengthAdjust="spacingAndGlyphs">-0.4</text>
<text x="70.5" y="646.0" textLength="57.1" lengthAdjust="spacingAndGlyphs">-0.6</text>
<text x="70.5" y="714.9" textLength="57.1" lengthAdjust="spacingAndGlyphs">-0.8</text>
</g>
<g font-family='"Liberation Sans", Arial, sans-serif' font-size="30.2" fill="#1a1a1a" stroke="#1a1a1a" stroke-width="0.4">
<text x="154.8" y="756" textLength="16.8" lengthAdjust="spacingAndGlyphs">1</text>
<text x="207.8" y="756" textLength="33.7" lengthAdjust="spacingAndGlyphs">51</text>
<text x="260.9" y="756" textLength="50.5" lengthAdjust="spacingAndGlyphs">101</text>
<text x="322.4" y="756" textLength="50.5" lengthAdjust="spacingAndGlyphs">151</text>
<text x="383.9" y="756" textLength="50.5" lengthAdjust="spacingAndGlyphs">201</text>
<text x="445.3" y="756" textLength="50.5" lengthAdjust="spacingAndGlyphs">251</text>
<text x="506.8" y="756" textLength="50.5" lengthAdjust="spacingAndGlyphs">301</text>
<text x="568.3" y="756" textLength="50.5" lengthAdjust="spacingAndGlyphs">351</text>
<text x="629.8" y="756" textLength="50.5" lengthAdjust="spacingAndGlyphs">401</text>
<text x="691.2" y="756" textLength="50.5" lengthAdjust="spacingAndGlyphs">451</text>
<text x="752.7" y="756" textLength="50.5" lengthAdjust="spacingAndGlyphs">501</text>
<text x="814.2" y="756" textLength="50.5" lengthAdjust="spacingAndGlyphs">551</text>
<text x="875.7" y="756" textLength="50.5" lengthAdjust="spacingAndGlyphs">601</text>
<text x="937.1" y="756" textLength="50.5" lengthAdjust="spacingAndGlyphs">651</text>
<text x="998.6" y="756" textLength="50.5" lengthAdjust="spacingAndGlyphs">701</text>
<text x="1060.1" y="756" textLength="50.5" lengthAdjust="spacingAndGlyphs">751</text>
<text x="1121.6" y="756" textLength="50.5" lengthAdjust="spacingAndGlyphs">801</text>
<text x="1183.0" y="756" textLength="50.5" lengthAdjust="spacingAndGlyphs">851</text>
<text x="1244.5" y="756" textLength="50.5" lengthAdjust="spacingAndGlyphs">901</text>
<text x="1306.0" y="756" textLength="50.5" lengthAdjust="spacingAndGlyphs">951</text>
</g>
<g font-family='"Liberation Sans", Arial, sans-serif' font-weight="bold" fill="#000">
<text x="665.5" y="61.4" font-size="44.6" textLength="83" lengthAdjust="spacingAndGlyphs">GPP</text>
<text x="736.5" y="821" font-size="45" textLength="80" lengthAdjust="spacingAndGlyphs">LAG</text>
<text transform="translate(47,568) rotate(-90)" font-size="43" textLength="405.5" lengthAdjust="spacingAndGlyphs">AUTOCORRELATION</text>
</g>
<g stroke-width="7.2" stroke-linecap="round" fill="none">
<path d="M276.7,875.6 H336.4" stroke="#4166b2"/>
<path d="M576.3,875.6 H634.7" stroke="#d5803c"/>
<path d="M887.3,875.6 H946.4" stroke="#cd0a10"/>
</g>
<g font-family='"Liberation Sans", Arial, sans-serif' font-size="31.8" fill="#1a1a1a" stroke="#1a1a1a" stroke-width="0.45">
<text x="344" y="884" textLength="182" lengthAdjust="spacingAndGlyphs">ACF_GPP_FI</text>
<text x="641" y="884" textLength="199" lengthAdjust="spacingAndGlyphs">ACF_GPP_DK</text>
<text x="954" y="884" textLength="193" lengthAdjust="spacingAndGlyphs">ACF_GPP_SP</text>
</g>
</svg>
</body></html>
